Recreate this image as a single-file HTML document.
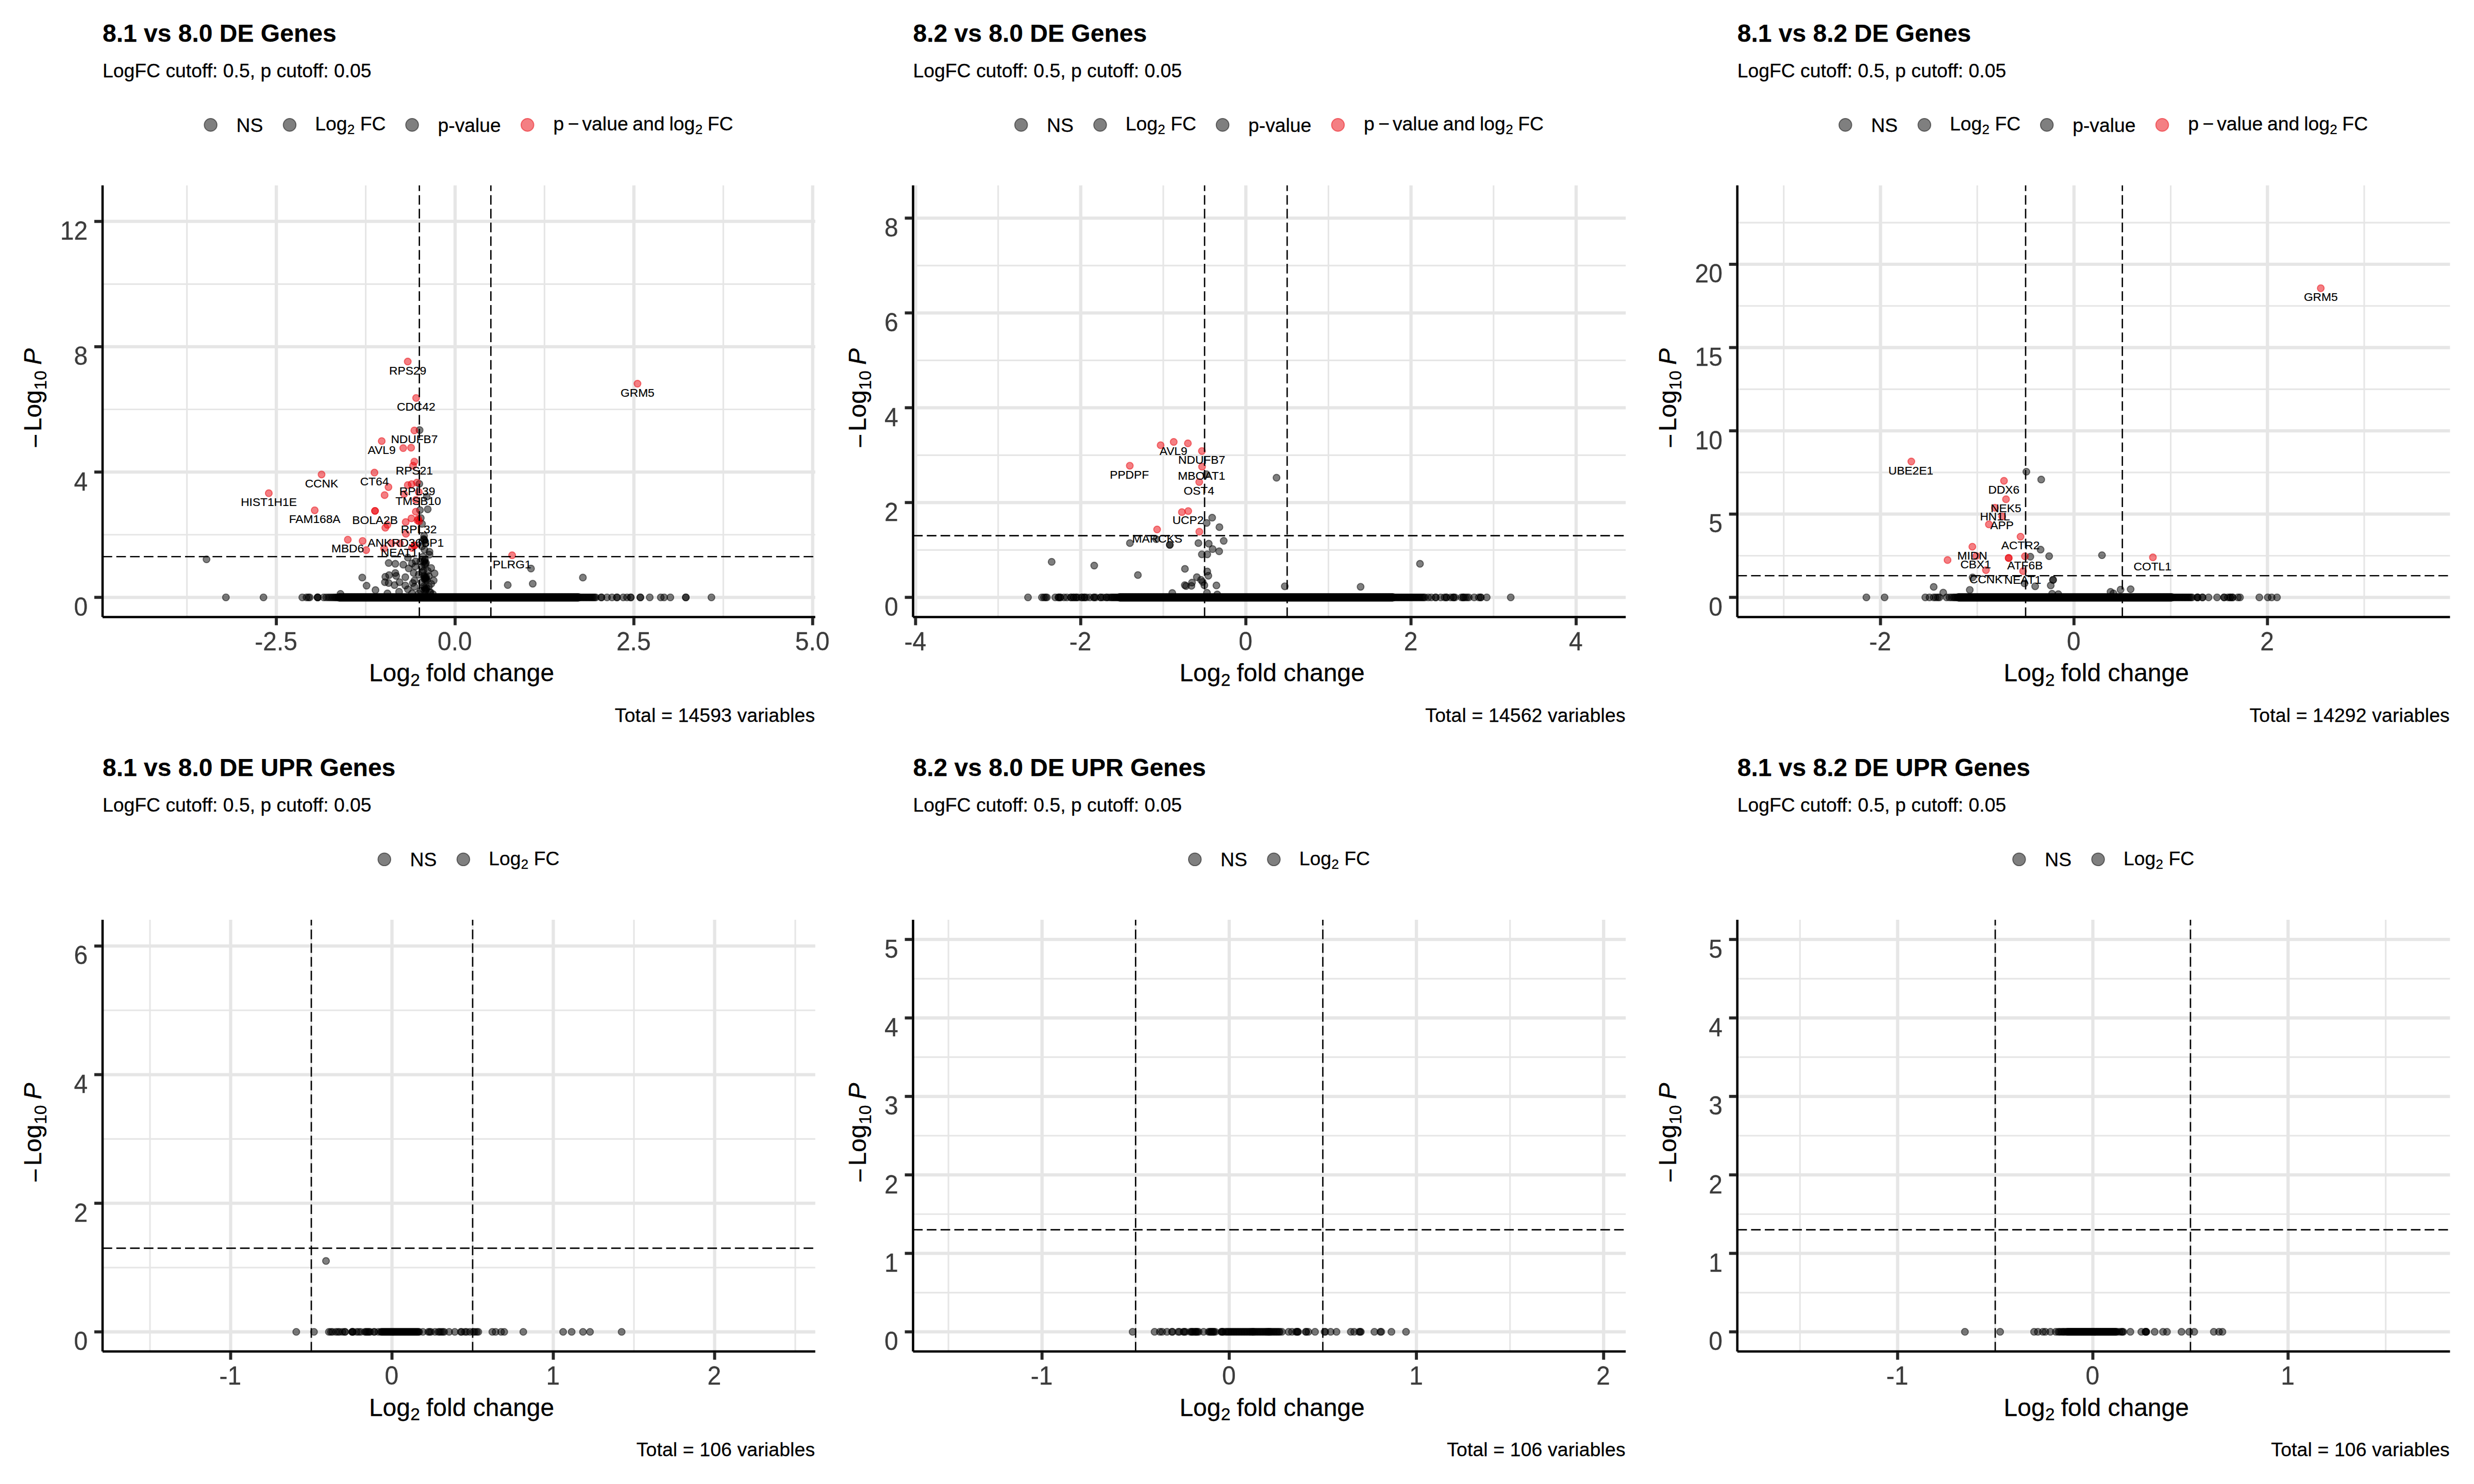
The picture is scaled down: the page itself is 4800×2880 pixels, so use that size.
<!DOCTYPE html>
<html lang="en"><head><meta charset="utf-8"><title>Volcano plots</title><style>
html,body{margin:0;padding:0;background:#fff}
svg{display:block}
text{font-family:"Liberation Sans", sans-serif;fill:#000}
.mn{stroke:#e6e6e6;stroke-width:3.15}
.mj{stroke:#e6e6e6;stroke-width:6.3}
.ax{stroke:#000;stroke-width:4.55}
.tk{stroke:#272727;stroke-width:5.9}
.ds{stroke:#000;stroke-width:2.65;stroke-dasharray:18.67 8}
.bar{stroke:#000;stroke-width:16.2;stroke-linecap:round}
.g{fill:#000;fill-opacity:.5;stroke:#000;stroke-opacity:.5;stroke-width:1.89}
.r{fill:#ea0008;fill-opacity:.5;stroke:#ea0008;stroke-opacity:.5;stroke-width:1.89}
.at{font-size:48px;fill:#3c3c3c;stroke:#3c3c3c;stroke-width:.3}
.al{font-size:48px;stroke:#000;stroke-width:.3}
.sb{font-size:33.6px}
.sb2{font-size:26.1px}
.ti{font-size:48px;font-weight:bold;stroke:#000;stroke-width:.25}
.su{font-size:37.33px;stroke:#000;stroke-width:.3}
.lb{font-size:22.76px;text-anchor:middle;stroke:#000;stroke-width:.2}
</style></head><body>
<svg width="4800" height="2880" viewBox="0 0 4800 2880">
<rect width="4800" height="2880" fill="#fff"/>
<line class="mn" x1="199" x2="1581.75" y1="1037.7" y2="1037.7"/>
<line class="mn" x1="199" x2="1581.75" y1="794.5" y2="794.5"/>
<line class="mn" x1="199" x2="1581.75" y1="551.3" y2="551.3"/>
<line class="mn" x1="362.72" x2="362.72" y1="359.7" y2="1197.4"/>
<line class="mn" x1="709.58" x2="709.58" y1="359.7" y2="1197.4"/>
<line class="mn" x1="1056.42" x2="1056.42" y1="359.7" y2="1197.4"/>
<line class="mn" x1="1403.28" x2="1403.28" y1="359.7" y2="1197.4"/>
<line class="mj" x1="199" x2="1581.75" y1="1159.3" y2="1159.3"/>
<line class="mj" x1="199" x2="1581.75" y1="916.1" y2="916.1"/>
<line class="mj" x1="199" x2="1581.75" y1="672.9" y2="672.9"/>
<line class="mj" x1="199" x2="1581.75" y1="429.7" y2="429.7"/>
<line class="mj" x1="536.15" x2="536.15" y1="359.7" y2="1197.4"/>
<line class="mj" x1="883" x2="883" y1="359.7" y2="1197.4"/>
<line class="mj" x1="1229.85" x2="1229.85" y1="359.7" y2="1197.4"/>
<line class="mj" x1="1576.7" x2="1576.7" y1="359.7" y2="1197.4"/>
<line class="bar" x1="658" x2="1122" y1="1159.3" y2="1159.3"/>
<circle class="g" cx="400.7" cy="1085.5" r="6.64"/>
<circle class="g" cx="438.3" cy="1159.3" r="6.64"/>
<circle class="g" cx="511.2" cy="1159.3" r="6.64"/>
<circle class="g" cx="1030.2" cy="1103.4" r="6.64"/>
<circle class="g" cx="1130.9" cy="1120.9" r="6.64"/>
<circle class="g" cx="985.1" cy="1135.4" r="6.64"/>
<circle class="g" cx="1033.6" cy="1132.8" r="6.64"/>
<circle class="g" cx="814.1" cy="834.7" r="6.64"/>
<circle class="g" cx="813.6" cy="939" r="6.64"/>
<circle class="g" cx="827.9" cy="964" r="6.64"/>
<circle class="g" cx="829.9" cy="988.3" r="6.64"/>
<circle class="g" cx="814.8" cy="990" r="6.64"/>
<circle class="g" cx="816.4" cy="1005.3" r="6.64"/>
<circle class="g" cx="818.8" cy="1016.6" r="6.64"/>
<circle class="g" cx="822.8" cy="1040.1" r="6.64"/>
<circle class="g" cx="822.8" cy="1047.3" r="6.64"/>
<circle class="g" cx="822" cy="1046" r="6.64"/>
<circle class="g" cx="823.8" cy="1049" r="6.64"/>
<circle class="g" cx="825.3" cy="1053.8" r="6.64"/>
<circle class="g" cx="818.8" cy="1060.3" r="6.64"/>
<circle class="g" cx="823.6" cy="1066.8" r="6.64"/>
<circle class="g" cx="833.3" cy="1070.8" r="6.64"/>
<circle class="g" cx="833.3" cy="1076.5" r="6.64"/>
<circle class="g" cx="820.4" cy="1080.5" r="6.64"/>
<circle class="g" cx="791.3" cy="1082.1" r="6.64"/>
<circle class="g" cx="806.7" cy="1089.4" r="6.64"/>
<circle class="g" cx="754.1" cy="1092.6" r="6.64"/>
<circle class="g" cx="767" cy="1094.2" r="6.64"/>
<circle class="g" cx="782.4" cy="1095.9" r="6.64"/>
<circle class="g" cx="799.4" cy="1093.4" r="6.64"/>
<circle class="g" cx="815.6" cy="1089.4" r="6.64"/>
<circle class="g" cx="823.6" cy="1087.8" r="6.64"/>
<circle class="g" cx="824.5" cy="1086" r="6.64"/>
<circle class="g" cx="822.5" cy="1090" r="6.64"/>
<circle class="g" cx="825.3" cy="1094.2" r="6.64"/>
<circle class="g" cx="824" cy="1096" r="6.64"/>
<circle class="g" cx="826.5" cy="1092.5" r="6.64"/>
<circle class="g" cx="792.9" cy="1103.1" r="6.64"/>
<circle class="g" cx="805.9" cy="1099.1" r="6.64"/>
<circle class="g" cx="836.6" cy="1102.3" r="6.64"/>
<circle class="g" cx="822" cy="1107.2" r="6.64"/>
<circle class="g" cx="767" cy="1112" r="6.64"/>
<circle class="g" cx="802.6" cy="1112" r="6.64"/>
<circle class="g" cx="843.1" cy="1112.9" r="6.64"/>
<circle class="g" cx="754.9" cy="1116.1" r="6.64"/>
<circle class="g" cx="768.7" cy="1117.7" r="6.64"/>
<circle class="g" cx="747.6" cy="1119.3" r="6.64"/>
<circle class="g" cx="786.4" cy="1120.1" r="6.64"/>
<circle class="g" cx="812.3" cy="1115.3" r="6.64"/>
<circle class="g" cx="825.3" cy="1121.7" r="6.64"/>
<circle class="g" cx="824" cy="1119.5" r="6.64"/>
<circle class="g" cx="826.5" cy="1123.5" r="6.64"/>
<circle class="g" cx="823.2" cy="1123" r="6.64"/>
<circle class="g" cx="827" cy="1120.5" r="6.64"/>
<circle class="g" cx="825" cy="1125.5" r="6.64"/>
<circle class="g" cx="822.5" cy="1117.5" r="6.64"/>
<circle class="g" cx="828" cy="1126" r="6.64"/>
<circle class="g" cx="841.4" cy="1126.6" r="6.64"/>
<circle class="g" cx="702.8" cy="1120.9" r="6.64"/>
<circle class="g" cx="746.8" cy="1129.8" r="6.64"/>
<circle class="g" cx="754.1" cy="1131.5" r="6.64"/>
<circle class="g" cx="775.1" cy="1129.8" r="6.64"/>
<circle class="g" cx="765.4" cy="1135.5" r="6.64"/>
<circle class="g" cx="786.4" cy="1136.3" r="6.64"/>
<circle class="g" cx="801" cy="1131.5" r="6.64"/>
<circle class="g" cx="804.2" cy="1126.6" r="6.64"/>
<circle class="g" cx="836.6" cy="1133.1" r="6.64"/>
<circle class="g" cx="711.2" cy="1136.6" r="6.64"/>
<circle class="g" cx="804.2" cy="1138.7" r="6.64"/>
<circle class="g" cx="791.3" cy="1143.6" r="6.64"/>
<circle class="g" cx="825.3" cy="1142.8" r="6.64"/>
<circle class="g" cx="824" cy="1140.5" r="6.64"/>
<circle class="g" cx="826.6" cy="1144.6" r="6.64"/>
<circle class="g" cx="823" cy="1145" r="6.64"/>
<circle class="g" cx="827.5" cy="1141" r="6.64"/>
<circle class="g" cx="825.5" cy="1147" r="6.64"/>
<circle class="g" cx="822" cy="1138" r="6.64"/>
<circle class="g" cx="728.5" cy="1145.2" r="6.64"/>
<circle class="g" cx="774.3" cy="1148.4" r="6.64"/>
<circle class="g" cx="751.7" cy="1151.7" r="6.64"/>
<circle class="g" cx="799.4" cy="1151.7" r="6.64"/>
<circle class="g" cx="660.6" cy="1152.5" r="6.64"/>
<circle class="g" cx="835" cy="1149.2" r="6.64"/>
<circle class="g" cx="818" cy="1100" r="6.64"/>
<circle class="g" cx="820" cy="1110" r="6.64"/>
<circle class="g" cx="830" cy="1108" r="6.64"/>
<circle class="g" cx="832" cy="1118" r="6.64"/>
<circle class="g" cx="818" cy="1130" r="6.64"/>
<circle class="g" cx="832" cy="1138" r="6.64"/>
<circle class="g" cx="816" cy="1146" r="6.64"/>
<circle class="g" cx="834" cy="1150" r="6.64"/>
<circle class="g" cx="812" cy="1152" r="6.64"/>
<circle class="g" cx="840" cy="1153" r="6.64"/>
<circle class="g" cx="586.5" cy="1159.3" r="6.64"/>
<circle class="g" cx="594.5" cy="1159.3" r="6.64"/>
<circle class="g" cx="598.3" cy="1159.3" r="6.64"/>
<circle class="g" cx="601" cy="1159.3" r="6.64"/>
<circle class="g" cx="616.3" cy="1159.3" r="6.64"/>
<circle class="g" cx="616.3" cy="1159.3" r="6.64"/>
<circle class="g" cx="616.3" cy="1159.3" r="6.64"/>
<circle class="g" cx="628" cy="1159.3" r="6.64"/>
<circle class="g" cx="632.8" cy="1159.3" r="6.64"/>
<circle class="g" cx="637" cy="1159.3" r="6.64"/>
<circle class="g" cx="640.5" cy="1159.3" r="6.64"/>
<circle class="g" cx="644" cy="1159.3" r="6.64"/>
<circle class="g" cx="647" cy="1159.3" r="6.64"/>
<circle class="g" cx="650" cy="1159.3" r="6.64"/>
<circle class="g" cx="652" cy="1159.3" r="6.64"/>
<circle class="g" cx="654.4" cy="1159.3" r="6.64"/>
<circle class="g" cx="656.8" cy="1159.3" r="6.64"/>
<circle class="g" cx="659.2" cy="1159.3" r="6.64"/>
<circle class="g" cx="661.6" cy="1159.3" r="6.64"/>
<circle class="g" cx="664" cy="1159.3" r="6.64"/>
<circle class="g" cx="666.4" cy="1159.3" r="6.64"/>
<circle class="g" cx="668.8" cy="1159.3" r="6.64"/>
<circle class="g" cx="671.2" cy="1159.3" r="6.64"/>
<circle class="g" cx="673.6" cy="1159.3" r="6.64"/>
<circle class="g" cx="676" cy="1159.3" r="6.64"/>
<circle class="g" cx="678.4" cy="1159.3" r="6.64"/>
<circle class="g" cx="680.8" cy="1159.3" r="6.64"/>
<circle class="g" cx="683.2" cy="1159.3" r="6.64"/>
<circle class="g" cx="685.6" cy="1159.3" r="6.64"/>
<circle class="g" cx="688" cy="1159.3" r="6.64"/>
<circle class="g" cx="690.4" cy="1159.3" r="6.64"/>
<circle class="g" cx="692.8" cy="1159.3" r="6.64"/>
<circle class="g" cx="695.2" cy="1159.3" r="6.64"/>
<circle class="g" cx="697.6" cy="1159.3" r="6.64"/>
<circle class="g" cx="700" cy="1159.3" r="6.64"/>
<circle class="g" cx="702.4" cy="1159.3" r="6.64"/>
<circle class="g" cx="704.8" cy="1159.3" r="6.64"/>
<circle class="g" cx="707.2" cy="1159.3" r="6.64"/>
<circle class="g" cx="709.6" cy="1159.3" r="6.64"/>
<circle class="g" cx="712" cy="1159.3" r="6.64"/>
<circle class="g" cx="714.4" cy="1159.3" r="6.64"/>
<circle class="g" cx="716.8" cy="1159.3" r="6.64"/>
<circle class="g" cx="719.2" cy="1159.3" r="6.64"/>
<circle class="g" cx="721.6" cy="1159.3" r="6.64"/>
<circle class="g" cx="724" cy="1159.3" r="6.64"/>
<circle class="g" cx="726.4" cy="1159.3" r="6.64"/>
<circle class="g" cx="728.8" cy="1159.3" r="6.64"/>
<circle class="g" cx="731.2" cy="1159.3" r="6.64"/>
<circle class="g" cx="733.6" cy="1159.3" r="6.64"/>
<circle class="g" cx="736" cy="1159.3" r="6.64"/>
<circle class="g" cx="738.4" cy="1159.3" r="6.64"/>
<circle class="g" cx="740.8" cy="1159.3" r="6.64"/>
<circle class="g" cx="743.2" cy="1159.3" r="6.64"/>
<circle class="g" cx="745.6" cy="1159.3" r="6.64"/>
<circle class="g" cx="748" cy="1159.3" r="6.64"/>
<circle class="g" cx="750.4" cy="1159.3" r="6.64"/>
<circle class="g" cx="752.8" cy="1159.3" r="6.64"/>
<circle class="g" cx="755.2" cy="1159.3" r="6.64"/>
<circle class="g" cx="757.6" cy="1159.3" r="6.64"/>
<circle class="g" cx="760" cy="1159.3" r="6.64"/>
<circle class="g" cx="762.4" cy="1159.3" r="6.64"/>
<circle class="g" cx="764.8" cy="1159.3" r="6.64"/>
<circle class="g" cx="767.2" cy="1159.3" r="6.64"/>
<circle class="g" cx="769.6" cy="1159.3" r="6.64"/>
<circle class="g" cx="772" cy="1159.3" r="6.64"/>
<circle class="g" cx="774.4" cy="1159.3" r="6.64"/>
<circle class="g" cx="776.8" cy="1159.3" r="6.64"/>
<circle class="g" cx="779.2" cy="1159.3" r="6.64"/>
<circle class="g" cx="781.6" cy="1159.3" r="6.64"/>
<circle class="g" cx="784" cy="1159.3" r="6.64"/>
<circle class="g" cx="786.4" cy="1159.3" r="6.64"/>
<circle class="g" cx="788.8" cy="1159.3" r="6.64"/>
<circle class="g" cx="791.2" cy="1159.3" r="6.64"/>
<circle class="g" cx="793.6" cy="1159.3" r="6.64"/>
<circle class="g" cx="796" cy="1159.3" r="6.64"/>
<circle class="g" cx="798.4" cy="1159.3" r="6.64"/>
<circle class="g" cx="800.8" cy="1159.3" r="6.64"/>
<circle class="g" cx="803.2" cy="1159.3" r="6.64"/>
<circle class="g" cx="805.6" cy="1159.3" r="6.64"/>
<circle class="g" cx="808" cy="1159.3" r="6.64"/>
<circle class="g" cx="810.4" cy="1159.3" r="6.64"/>
<circle class="g" cx="812.8" cy="1159.3" r="6.64"/>
<circle class="g" cx="815.2" cy="1159.3" r="6.64"/>
<circle class="g" cx="817.6" cy="1159.3" r="6.64"/>
<circle class="g" cx="820" cy="1159.3" r="6.64"/>
<circle class="g" cx="822.4" cy="1159.3" r="6.64"/>
<circle class="g" cx="824.8" cy="1159.3" r="6.64"/>
<circle class="g" cx="827.2" cy="1159.3" r="6.64"/>
<circle class="g" cx="829.6" cy="1159.3" r="6.64"/>
<circle class="g" cx="832" cy="1159.3" r="6.64"/>
<circle class="g" cx="834.4" cy="1159.3" r="6.64"/>
<circle class="g" cx="836.8" cy="1159.3" r="6.64"/>
<circle class="g" cx="839.2" cy="1159.3" r="6.64"/>
<circle class="g" cx="841.6" cy="1159.3" r="6.64"/>
<circle class="g" cx="844" cy="1159.3" r="6.64"/>
<circle class="g" cx="846.4" cy="1159.3" r="6.64"/>
<circle class="g" cx="848.8" cy="1159.3" r="6.64"/>
<circle class="g" cx="851.2" cy="1159.3" r="6.64"/>
<circle class="g" cx="853.6" cy="1159.3" r="6.64"/>
<circle class="g" cx="856" cy="1159.3" r="6.64"/>
<circle class="g" cx="858.4" cy="1159.3" r="6.64"/>
<circle class="g" cx="860.8" cy="1159.3" r="6.64"/>
<circle class="g" cx="863.2" cy="1159.3" r="6.64"/>
<circle class="g" cx="865.6" cy="1159.3" r="6.64"/>
<circle class="g" cx="868" cy="1159.3" r="6.64"/>
<circle class="g" cx="870.4" cy="1159.3" r="6.64"/>
<circle class="g" cx="872.8" cy="1159.3" r="6.64"/>
<circle class="g" cx="875.2" cy="1159.3" r="6.64"/>
<circle class="g" cx="877.6" cy="1159.3" r="6.64"/>
<circle class="g" cx="880" cy="1159.3" r="6.64"/>
<circle class="g" cx="882.4" cy="1159.3" r="6.64"/>
<circle class="g" cx="884.8" cy="1159.3" r="6.64"/>
<circle class="g" cx="887.2" cy="1159.3" r="6.64"/>
<circle class="g" cx="889.6" cy="1159.3" r="6.64"/>
<circle class="g" cx="892" cy="1159.3" r="6.64"/>
<circle class="g" cx="894.4" cy="1159.3" r="6.64"/>
<circle class="g" cx="896.8" cy="1159.3" r="6.64"/>
<circle class="g" cx="899.2" cy="1159.3" r="6.64"/>
<circle class="g" cx="901.6" cy="1159.3" r="6.64"/>
<circle class="g" cx="904" cy="1159.3" r="6.64"/>
<circle class="g" cx="906.4" cy="1159.3" r="6.64"/>
<circle class="g" cx="908.8" cy="1159.3" r="6.64"/>
<circle class="g" cx="911.2" cy="1159.3" r="6.64"/>
<circle class="g" cx="913.6" cy="1159.3" r="6.64"/>
<circle class="g" cx="916" cy="1159.3" r="6.64"/>
<circle class="g" cx="918.4" cy="1159.3" r="6.64"/>
<circle class="g" cx="920.8" cy="1159.3" r="6.64"/>
<circle class="g" cx="923.2" cy="1159.3" r="6.64"/>
<circle class="g" cx="925.6" cy="1159.3" r="6.64"/>
<circle class="g" cx="928" cy="1159.3" r="6.64"/>
<circle class="g" cx="930.4" cy="1159.3" r="6.64"/>
<circle class="g" cx="932.8" cy="1159.3" r="6.64"/>
<circle class="g" cx="935.2" cy="1159.3" r="6.64"/>
<circle class="g" cx="937.6" cy="1159.3" r="6.64"/>
<circle class="g" cx="940" cy="1159.3" r="6.64"/>
<circle class="g" cx="942.4" cy="1159.3" r="6.64"/>
<circle class="g" cx="944.8" cy="1159.3" r="6.64"/>
<circle class="g" cx="947.2" cy="1159.3" r="6.64"/>
<circle class="g" cx="949.6" cy="1159.3" r="6.64"/>
<circle class="g" cx="952" cy="1159.3" r="6.64"/>
<circle class="g" cx="954.4" cy="1159.3" r="6.64"/>
<circle class="g" cx="956.8" cy="1159.3" r="6.64"/>
<circle class="g" cx="959.2" cy="1159.3" r="6.64"/>
<circle class="g" cx="961.6" cy="1159.3" r="6.64"/>
<circle class="g" cx="964" cy="1159.3" r="6.64"/>
<circle class="g" cx="966.4" cy="1159.3" r="6.64"/>
<circle class="g" cx="968.8" cy="1159.3" r="6.64"/>
<circle class="g" cx="971.2" cy="1159.3" r="6.64"/>
<circle class="g" cx="973.6" cy="1159.3" r="6.64"/>
<circle class="g" cx="976" cy="1159.3" r="6.64"/>
<circle class="g" cx="978.4" cy="1159.3" r="6.64"/>
<circle class="g" cx="980.8" cy="1159.3" r="6.64"/>
<circle class="g" cx="983.2" cy="1159.3" r="6.64"/>
<circle class="g" cx="985.6" cy="1159.3" r="6.64"/>
<circle class="g" cx="988" cy="1159.3" r="6.64"/>
<circle class="g" cx="990.4" cy="1159.3" r="6.64"/>
<circle class="g" cx="992.8" cy="1159.3" r="6.64"/>
<circle class="g" cx="995.2" cy="1159.3" r="6.64"/>
<circle class="g" cx="997.6" cy="1159.3" r="6.64"/>
<circle class="g" cx="1000" cy="1159.3" r="6.64"/>
<circle class="g" cx="1002.4" cy="1159.3" r="6.64"/>
<circle class="g" cx="1004.8" cy="1159.3" r="6.64"/>
<circle class="g" cx="1007.2" cy="1159.3" r="6.64"/>
<circle class="g" cx="1009.6" cy="1159.3" r="6.64"/>
<circle class="g" cx="1012" cy="1159.3" r="6.64"/>
<circle class="g" cx="1014.4" cy="1159.3" r="6.64"/>
<circle class="g" cx="1016.8" cy="1159.3" r="6.64"/>
<circle class="g" cx="1019.2" cy="1159.3" r="6.64"/>
<circle class="g" cx="1021.6" cy="1159.3" r="6.64"/>
<circle class="g" cx="1024" cy="1159.3" r="6.64"/>
<circle class="g" cx="1026.4" cy="1159.3" r="6.64"/>
<circle class="g" cx="1028.8" cy="1159.3" r="6.64"/>
<circle class="g" cx="1031.2" cy="1159.3" r="6.64"/>
<circle class="g" cx="1033.6" cy="1159.3" r="6.64"/>
<circle class="g" cx="1036" cy="1159.3" r="6.64"/>
<circle class="g" cx="1038.4" cy="1159.3" r="6.64"/>
<circle class="g" cx="1040.8" cy="1159.3" r="6.64"/>
<circle class="g" cx="1043.2" cy="1159.3" r="6.64"/>
<circle class="g" cx="1045.6" cy="1159.3" r="6.64"/>
<circle class="g" cx="1048" cy="1159.3" r="6.64"/>
<circle class="g" cx="1050.4" cy="1159.3" r="6.64"/>
<circle class="g" cx="1052.8" cy="1159.3" r="6.64"/>
<circle class="g" cx="1055.2" cy="1159.3" r="6.64"/>
<circle class="g" cx="1057.6" cy="1159.3" r="6.64"/>
<circle class="g" cx="1060" cy="1159.3" r="6.64"/>
<circle class="g" cx="1062.4" cy="1159.3" r="6.64"/>
<circle class="g" cx="1064.8" cy="1159.3" r="6.64"/>
<circle class="g" cx="1067.2" cy="1159.3" r="6.64"/>
<circle class="g" cx="1069.6" cy="1159.3" r="6.64"/>
<circle class="g" cx="1072" cy="1159.3" r="6.64"/>
<circle class="g" cx="1074.4" cy="1159.3" r="6.64"/>
<circle class="g" cx="1076.8" cy="1159.3" r="6.64"/>
<circle class="g" cx="1079.2" cy="1159.3" r="6.64"/>
<circle class="g" cx="1081.6" cy="1159.3" r="6.64"/>
<circle class="g" cx="1084" cy="1159.3" r="6.64"/>
<circle class="g" cx="1086.4" cy="1159.3" r="6.64"/>
<circle class="g" cx="1088.8" cy="1159.3" r="6.64"/>
<circle class="g" cx="1091.2" cy="1159.3" r="6.64"/>
<circle class="g" cx="1093.6" cy="1159.3" r="6.64"/>
<circle class="g" cx="1096" cy="1159.3" r="6.64"/>
<circle class="g" cx="1098.4" cy="1159.3" r="6.64"/>
<circle class="g" cx="1100.8" cy="1159.3" r="6.64"/>
<circle class="g" cx="1103.2" cy="1159.3" r="6.64"/>
<circle class="g" cx="1105.6" cy="1159.3" r="6.64"/>
<circle class="g" cx="1108" cy="1159.3" r="6.64"/>
<circle class="g" cx="1110.4" cy="1159.3" r="6.64"/>
<circle class="g" cx="1112.8" cy="1159.3" r="6.64"/>
<circle class="g" cx="1115.2" cy="1159.3" r="6.64"/>
<circle class="g" cx="1117.6" cy="1159.3" r="6.64"/>
<circle class="g" cx="1120" cy="1159.3" r="6.64"/>
<circle class="g" cx="1122.4" cy="1159.3" r="6.64"/>
<circle class="g" cx="1124.8" cy="1159.3" r="6.64"/>
<circle class="g" cx="1127.2" cy="1159.3" r="6.64"/>
<circle class="g" cx="1129.6" cy="1159.3" r="6.64"/>
<circle class="g" cx="1132" cy="1159.3" r="6.64"/>
<circle class="g" cx="1134.4" cy="1159.3" r="6.64"/>
<circle class="g" cx="1136.8" cy="1159.3" r="6.64"/>
<circle class="g" cx="1139.2" cy="1159.3" r="6.64"/>
<circle class="g" cx="1141.6" cy="1159.3" r="6.64"/>
<circle class="g" cx="1144" cy="1159.3" r="6.64"/>
<circle class="g" cx="1146.4" cy="1159.3" r="6.64"/>
<circle class="g" cx="1148.8" cy="1159.3" r="6.64"/>
<circle class="g" cx="1151.2" cy="1159.3" r="6.64"/>
<circle class="g" cx="1153.6" cy="1159.3" r="6.64"/>
<circle class="g" cx="1156" cy="1159.3" r="6.64"/>
<circle class="g" cx="1166.8" cy="1159.3" r="6.64"/>
<circle class="g" cx="1166.8" cy="1159.3" r="6.64"/>
<circle class="g" cx="1177.7" cy="1159.3" r="6.64"/>
<circle class="g" cx="1187.4" cy="1159.3" r="6.64"/>
<circle class="g" cx="1197" cy="1159.3" r="6.64"/>
<circle class="g" cx="1197" cy="1159.3" r="6.64"/>
<circle class="g" cx="1209.2" cy="1159.3" r="6.64"/>
<circle class="g" cx="1216.5" cy="1159.3" r="6.64"/>
<circle class="g" cx="1223.8" cy="1159.3" r="6.64"/>
<circle class="g" cx="1223.8" cy="1159.3" r="6.64"/>
<circle class="g" cx="1242.4" cy="1159.3" r="6.64"/>
<circle class="g" cx="1242.4" cy="1159.3" r="6.64"/>
<circle class="g" cx="1260.6" cy="1159.3" r="6.64"/>
<circle class="g" cx="1282" cy="1159.3" r="6.64"/>
<circle class="g" cx="1288.5" cy="1159.3" r="6.64"/>
<circle class="g" cx="1300.6" cy="1159.3" r="6.64"/>
<circle class="g" cx="1330.6" cy="1159.3" r="6.64"/>
<circle class="g" cx="1330.6" cy="1159.3" r="6.64"/>
<circle class="g" cx="1380.3" cy="1159.3" r="6.64"/>
<circle class="r" cx="791.1" cy="701.7" r="6.64"/>
<circle class="r" cx="807.3" cy="772.3" r="6.64"/>
<circle class="r" cx="803.9" cy="835.4" r="6.64"/>
<circle class="r" cx="740.6" cy="856" r="6.64"/>
<circle class="r" cx="782.3" cy="869.6" r="6.64"/>
<circle class="r" cx="797.6" cy="868.9" r="6.64"/>
<circle class="r" cx="803.9" cy="895.8" r="6.64"/>
<circle class="r" cx="801.5" cy="903.8" r="6.64"/>
<circle class="r" cx="726.5" cy="917.2" r="6.64"/>
<circle class="r" cx="623.9" cy="920.8" r="6.64"/>
<circle class="r" cx="753.7" cy="945.3" r="6.64"/>
<circle class="r" cx="746.2" cy="960.9" r="6.64"/>
<circle class="r" cx="521.5" cy="957.2" r="6.64"/>
<circle class="r" cx="610.6" cy="990.3" r="6.64"/>
<circle class="r" cx="727.6" cy="991.5" r="6.64"/>
<circle class="r" cx="727.6" cy="991.5" r="6.64"/>
<circle class="r" cx="791.1" cy="941.4" r="6.64"/>
<circle class="r" cx="798.6" cy="939.5" r="6.64"/>
<circle class="r" cx="808.8" cy="936.6" r="6.64"/>
<circle class="r" cx="784" cy="958.9" r="6.64"/>
<circle class="r" cx="812.4" cy="954.8" r="6.64"/>
<circle class="r" cx="807" cy="970" r="6.64"/>
<circle class="r" cx="806.7" cy="993" r="6.64"/>
<circle class="r" cx="798.2" cy="1006" r="6.64"/>
<circle class="r" cx="787.1" cy="1013.2" r="6.64"/>
<circle class="r" cx="811.5" cy="1006.9" r="6.64"/>
<circle class="r" cx="813.1" cy="1011.8" r="6.64"/>
<circle class="r" cx="810" cy="1010" r="6.64"/>
<circle class="r" cx="751.7" cy="1018.6" r="6.64"/>
<circle class="r" cx="747.6" cy="1024.2" r="6.64"/>
<circle class="r" cx="787.6" cy="1036" r="6.64"/>
<circle class="r" cx="674.8" cy="1047.3" r="6.64"/>
<circle class="r" cx="703.5" cy="1049.8" r="6.64"/>
<circle class="r" cx="710.4" cy="1067.6" r="6.64"/>
<circle class="r" cx="759.8" cy="1054.6" r="6.64"/>
<circle class="r" cx="775.9" cy="1054.6" r="6.64"/>
<circle class="r" cx="745.2" cy="1064.3" r="6.64"/>
<circle class="r" cx="799.4" cy="1063.5" r="6.64"/>
<circle class="r" cx="804.2" cy="1058.7" r="6.64"/>
<circle class="r" cx="804.2" cy="1058.7" r="6.64"/>
<circle class="r" cx="993.6" cy="1077.7" r="6.64"/>
<circle class="r" cx="1236.85" cy="744.6" r="6.64"/>
<line class="ds" x1="813.63" x2="813.63" y1="1197.4" y2="359.7"/>
<line class="ds" x1="952.37" x2="952.37" y1="1197.4" y2="359.7"/>
<line class="ds" x1="199" x2="1581.75" y1="1080.2" y2="1080.2"/>
<text class="lb" x="791.1" y="726.7">RPS29</text>
<text class="lb" x="807.3" y="797.3">CDC42</text>
<text class="lb" x="803.9" y="860.4">NDUFB7</text>
<text class="lb" x="740.6" y="881">AVL9</text>
<text class="lb" x="803.9" y="920.8">RPS21</text>
<text class="lb" x="726.5" y="942.2">CT64</text>
<text class="lb" x="623.9" y="945.8">CCNK</text>
<text class="lb" x="521.5" y="982.2">HIST1H1E</text>
<text class="lb" x="610.6" y="1015.3">FAM168A</text>
<text class="lb" x="727.6" y="1016.5">BOLA2B</text>
<text class="lb" x="809.5" y="961">RPL39</text>
<text class="lb" x="811.5" y="980">TMSB10</text>
<text class="lb" x="812.5" y="1034.8">RPL32</text>
<text class="lb" x="787.2" y="1060.5">ANKRD36BP1</text>
<text class="lb" x="674.6" y="1072.3">MBD6</text>
<text class="lb" x="774.6" y="1079.7">NEAT1</text>
<text class="lb" x="993.3" y="1102.7">PLRG1</text>
<text class="lb" x="1236.9" y="769.8">GRM5</text>
<line class="ax" x1="199" x2="199" y1="359.7" y2="1197.4"/>
<line class="ax" x1="199" x2="1581.75" y1="1197.4" y2="1197.4"/>
<line class="tk" x1="183" x2="197.5" y1="1159.3" y2="1159.3"/>
<text class="at" text-anchor="end" transform="translate(170.2 1194.8) scale(1 1.03)">0</text>
<line class="tk" x1="183" x2="197.5" y1="916.1" y2="916.1"/>
<text class="at" text-anchor="end" transform="translate(170.2 951.6) scale(1 1.03)">4</text>
<line class="tk" x1="183" x2="197.5" y1="672.9" y2="672.9"/>
<text class="at" text-anchor="end" transform="translate(170.2 708.4) scale(1 1.03)">8</text>
<line class="tk" x1="183" x2="197.5" y1="429.7" y2="429.7"/>
<text class="at" text-anchor="end" transform="translate(170.2 465.2) scale(1 1.03)">12</text>
<line class="tk" x1="536.15" x2="536.15" y1="1198.9" y2="1213.4"/>
<text class="at" text-anchor="middle" transform="translate(535.55 1261.5) scale(1 1.03)">-2.5</text>
<line class="tk" x1="883" x2="883" y1="1198.9" y2="1213.4"/>
<text class="at" text-anchor="middle" transform="translate(882.4 1261.5) scale(1 1.03)">0.0</text>
<line class="tk" x1="1229.85" x2="1229.85" y1="1198.9" y2="1213.4"/>
<text class="at" text-anchor="middle" transform="translate(1229.25 1261.5) scale(1 1.03)">2.5</text>
<line class="tk" x1="1576.7" x2="1576.7" y1="1198.9" y2="1213.4"/>
<text class="at" text-anchor="middle" transform="translate(1576.1 1261.5) scale(1 1.03)">5.0</text>
<text class="al" y="1322.2"><tspan x="715.9">Log</tspan><tspan class="sb" x="796.3" dy="8.6">2</tspan><tspan x="813.7" dy="-8.6"> fold change</tspan></text>
<text class="al" transform="translate(80.25 870) rotate(-90)"><tspan x="0" y="4.7">−</tspan><tspan x="32.8" y="0">Log</tspan><tspan class="sb" x="113.6" y="9.3">10</tspan><tspan x="162" y="0" font-style="italic">P</tspan></text>
<text class="ti" x="199" y="80.5">8.1 vs 8.0 DE Genes</text>
<text class="su" x="199" y="149.9">LogFC cutoff: 0.5, p cutoff: 0.05</text>
<text class="su" text-anchor="end" letter-spacing=".15" x="1581.25" y="1400.6">Total = 14593 variables</text>
<circle class="g" cx="408.65" cy="242.4" r="12.33"/>
<circle class="g" cx="561.95" cy="242.4" r="12.33"/>
<circle class="g" cx="799.55" cy="242.4" r="12.33"/>
<circle class="r" cx="1023.35" cy="242.4" r="12.33"/>
<text class="su" x="458.45" y="255.7">NS</text>
<text class="su" y="253.3"><tspan x="611.35">Log</tspan><tspan class="sb2" x="673.85" dy="6.8">2</tspan><tspan x="698.75" dy="-6.8">FC</tspan></text>
<text class="su" x="849.45" y="255.7">p-value</text>
<text class="su" y="253"><tspan x="1073.55">p</tspan><tspan x="1101.7">−</tspan><tspan x="1129.45">value</tspan><tspan x="1227.35">and</tspan><tspan x="1298.55">log</tspan><tspan class="sb2" x="1348.65" dy="6.6">2</tspan><tspan x="1372.65" dy="-6.6">FC</tspan></text>
<line class="mn" x1="1771.5" x2="3154.25" y1="1067.3" y2="1067.3"/>
<line class="mn" x1="1771.5" x2="3154.25" y1="883.3" y2="883.3"/>
<line class="mn" x1="1771.5" x2="3154.25" y1="699.3" y2="699.3"/>
<line class="mn" x1="1771.5" x2="3154.25" y1="515.3" y2="515.3"/>
<line class="mn" x1="1936.6" x2="1936.6" y1="359.7" y2="1197.4"/>
<line class="mn" x1="2257" x2="2257" y1="359.7" y2="1197.4"/>
<line class="mn" x1="2577.4" x2="2577.4" y1="359.7" y2="1197.4"/>
<line class="mn" x1="2897.8" x2="2897.8" y1="359.7" y2="1197.4"/>
<line class="mj" x1="1771.5" x2="3154.25" y1="1159.3" y2="1159.3"/>
<line class="mj" x1="1771.5" x2="3154.25" y1="975.3" y2="975.3"/>
<line class="mj" x1="1771.5" x2="3154.25" y1="791.3" y2="791.3"/>
<line class="mj" x1="1771.5" x2="3154.25" y1="607.3" y2="607.3"/>
<line class="mj" x1="1771.5" x2="3154.25" y1="423.3" y2="423.3"/>
<line class="mj" x1="1776.4" x2="1776.4" y1="359.7" y2="1197.4"/>
<line class="mj" x1="2096.8" x2="2096.8" y1="359.7" y2="1197.4"/>
<line class="mj" x1="2417.2" x2="2417.2" y1="359.7" y2="1197.4"/>
<line class="mj" x1="2737.6" x2="2737.6" y1="359.7" y2="1197.4"/>
<line class="mj" x1="3058" x2="3058" y1="359.7" y2="1197.4"/>
<line class="bar" x1="2172.5" x2="2702" y1="1159.3" y2="1159.3"/>
<circle class="g" cx="2340.8" cy="920.3" r="6.64"/>
<circle class="g" cx="2476.7" cy="927.1" r="6.64"/>
<circle class="g" cx="2351.8" cy="1004.7" r="6.64"/>
<circle class="g" cx="2341.1" cy="1014.9" r="6.64"/>
<circle class="g" cx="2365.9" cy="1023" r="6.64"/>
<circle class="g" cx="2374.2" cy="1049.6" r="6.64"/>
<circle class="g" cx="2325.1" cy="1054" r="6.64"/>
<circle class="g" cx="2345.2" cy="1055.2" r="6.64"/>
<circle class="g" cx="2192.2" cy="1054" r="6.64"/>
<circle class="g" cx="2243.3" cy="1046.3" r="6.64"/>
<circle class="g" cx="2269.6" cy="1057.3" r="6.64"/>
<circle class="g" cx="2269.6" cy="1057.3" r="6.64"/>
<circle class="g" cx="2352.7" cy="1065.6" r="6.64"/>
<circle class="g" cx="2365.4" cy="1069.9" r="6.64"/>
<circle class="g" cx="2331.8" cy="1075.8" r="6.64"/>
<circle class="g" cx="2342.3" cy="1075.8" r="6.64"/>
<circle class="g" cx="2123" cy="1097.6" r="6.64"/>
<circle class="g" cx="2207.7" cy="1116" r="6.64"/>
<circle class="g" cx="2299" cy="1104" r="6.64"/>
<circle class="g" cx="2342.3" cy="1109.2" r="6.64"/>
<circle class="g" cx="2344.4" cy="1117.3" r="6.64"/>
<circle class="g" cx="2322.1" cy="1120.2" r="6.64"/>
<circle class="g" cx="2330.2" cy="1125.4" r="6.64"/>
<circle class="g" cx="2333.4" cy="1129.4" r="6.64"/>
<circle class="g" cx="2336.7" cy="1135.9" r="6.64"/>
<circle class="g" cx="2312.7" cy="1130.6" r="6.64"/>
<circle class="g" cx="2311.6" cy="1137" r="6.64"/>
<circle class="g" cx="2298.7" cy="1135.6" r="6.64"/>
<circle class="g" cx="2301.1" cy="1137.3" r="6.64"/>
<circle class="g" cx="2360.1" cy="1136.2" r="6.64"/>
<circle class="g" cx="2492.7" cy="1137.8" r="6.64"/>
<circle class="g" cx="2274.4" cy="1150.9" r="6.64"/>
<circle class="g" cx="2341.8" cy="1150.5" r="6.64"/>
<circle class="g" cx="2361.7" cy="1153.7" r="6.64"/>
<circle class="g" cx="2040.4" cy="1090.4" r="6.64"/>
<circle class="g" cx="2755" cy="1094.2" r="6.64"/>
<circle class="g" cx="2639.8" cy="1138.8" r="6.64"/>
<circle class="g" cx="1994.5" cy="1159.3" r="6.64"/>
<circle class="g" cx="2021.5" cy="1159.3" r="6.64"/>
<circle class="g" cx="2025.5" cy="1159.3" r="6.64"/>
<circle class="g" cx="2028.8" cy="1159.3" r="6.64"/>
<circle class="g" cx="2031.2" cy="1159.3" r="6.64"/>
<circle class="g" cx="2047.4" cy="1159.3" r="6.64"/>
<circle class="g" cx="2053.8" cy="1159.3" r="6.64"/>
<circle class="g" cx="2053.8" cy="1159.3" r="6.64"/>
<circle class="g" cx="2057" cy="1159.3" r="6.64"/>
<circle class="g" cx="2057" cy="1159.3" r="6.64"/>
<circle class="g" cx="2064.3" cy="1159.3" r="6.64"/>
<circle class="g" cx="2070" cy="1159.3" r="6.64"/>
<circle class="g" cx="2078" cy="1159.3" r="6.64"/>
<circle class="g" cx="2078" cy="1159.3" r="6.64"/>
<circle class="g" cx="2083" cy="1159.3" r="6.64"/>
<circle class="g" cx="2083" cy="1159.3" r="6.64"/>
<circle class="g" cx="2088" cy="1159.3" r="6.64"/>
<circle class="g" cx="2088" cy="1159.3" r="6.64"/>
<circle class="g" cx="2092" cy="1159.3" r="6.64"/>
<circle class="g" cx="2099" cy="1159.3" r="6.64"/>
<circle class="g" cx="2099" cy="1159.3" r="6.64"/>
<circle class="g" cx="2104" cy="1159.3" r="6.64"/>
<circle class="g" cx="2104" cy="1159.3" r="6.64"/>
<circle class="g" cx="2108" cy="1159.3" r="6.64"/>
<circle class="g" cx="2114.5" cy="1159.3" r="6.64"/>
<circle class="g" cx="2122.5" cy="1159.3" r="6.64"/>
<circle class="g" cx="2122.5" cy="1159.3" r="6.64"/>
<circle class="g" cx="2126" cy="1159.3" r="6.64"/>
<circle class="g" cx="2135.5" cy="1159.3" r="6.64"/>
<circle class="g" cx="2135.5" cy="1159.3" r="6.64"/>
<circle class="g" cx="2140" cy="1159.3" r="6.64"/>
<circle class="g" cx="2146.8" cy="1159.3" r="6.64"/>
<circle class="g" cx="2146.8" cy="1159.3" r="6.64"/>
<circle class="g" cx="2151" cy="1159.3" r="6.64"/>
<circle class="g" cx="2155" cy="1159.3" r="6.64"/>
<circle class="g" cx="2157.4" cy="1159.3" r="6.64"/>
<circle class="g" cx="2159.8" cy="1159.3" r="6.64"/>
<circle class="g" cx="2162.2" cy="1159.3" r="6.64"/>
<circle class="g" cx="2164.6" cy="1159.3" r="6.64"/>
<circle class="g" cx="2167" cy="1159.3" r="6.64"/>
<circle class="g" cx="2169.4" cy="1159.3" r="6.64"/>
<circle class="g" cx="2171.8" cy="1159.3" r="6.64"/>
<circle class="g" cx="2174.2" cy="1159.3" r="6.64"/>
<circle class="g" cx="2176.6" cy="1159.3" r="6.64"/>
<circle class="g" cx="2179" cy="1159.3" r="6.64"/>
<circle class="g" cx="2181.4" cy="1159.3" r="6.64"/>
<circle class="g" cx="2183.8" cy="1159.3" r="6.64"/>
<circle class="g" cx="2186.2" cy="1159.3" r="6.64"/>
<circle class="g" cx="2188.6" cy="1159.3" r="6.64"/>
<circle class="g" cx="2191" cy="1159.3" r="6.64"/>
<circle class="g" cx="2193.4" cy="1159.3" r="6.64"/>
<circle class="g" cx="2195.8" cy="1159.3" r="6.64"/>
<circle class="g" cx="2198.2" cy="1159.3" r="6.64"/>
<circle class="g" cx="2200.6" cy="1159.3" r="6.64"/>
<circle class="g" cx="2203" cy="1159.3" r="6.64"/>
<circle class="g" cx="2205.4" cy="1159.3" r="6.64"/>
<circle class="g" cx="2207.8" cy="1159.3" r="6.64"/>
<circle class="g" cx="2210.2" cy="1159.3" r="6.64"/>
<circle class="g" cx="2212.6" cy="1159.3" r="6.64"/>
<circle class="g" cx="2215" cy="1159.3" r="6.64"/>
<circle class="g" cx="2217.4" cy="1159.3" r="6.64"/>
<circle class="g" cx="2219.8" cy="1159.3" r="6.64"/>
<circle class="g" cx="2222.2" cy="1159.3" r="6.64"/>
<circle class="g" cx="2224.6" cy="1159.3" r="6.64"/>
<circle class="g" cx="2227" cy="1159.3" r="6.64"/>
<circle class="g" cx="2229.4" cy="1159.3" r="6.64"/>
<circle class="g" cx="2231.8" cy="1159.3" r="6.64"/>
<circle class="g" cx="2234.2" cy="1159.3" r="6.64"/>
<circle class="g" cx="2236.6" cy="1159.3" r="6.64"/>
<circle class="g" cx="2239" cy="1159.3" r="6.64"/>
<circle class="g" cx="2241.4" cy="1159.3" r="6.64"/>
<circle class="g" cx="2243.8" cy="1159.3" r="6.64"/>
<circle class="g" cx="2246.2" cy="1159.3" r="6.64"/>
<circle class="g" cx="2248.6" cy="1159.3" r="6.64"/>
<circle class="g" cx="2251" cy="1159.3" r="6.64"/>
<circle class="g" cx="2253.4" cy="1159.3" r="6.64"/>
<circle class="g" cx="2255.8" cy="1159.3" r="6.64"/>
<circle class="g" cx="2258.2" cy="1159.3" r="6.64"/>
<circle class="g" cx="2260.6" cy="1159.3" r="6.64"/>
<circle class="g" cx="2263" cy="1159.3" r="6.64"/>
<circle class="g" cx="2265.4" cy="1159.3" r="6.64"/>
<circle class="g" cx="2267.8" cy="1159.3" r="6.64"/>
<circle class="g" cx="2270.2" cy="1159.3" r="6.64"/>
<circle class="g" cx="2272.6" cy="1159.3" r="6.64"/>
<circle class="g" cx="2275" cy="1159.3" r="6.64"/>
<circle class="g" cx="2277.4" cy="1159.3" r="6.64"/>
<circle class="g" cx="2279.8" cy="1159.3" r="6.64"/>
<circle class="g" cx="2282.2" cy="1159.3" r="6.64"/>
<circle class="g" cx="2284.6" cy="1159.3" r="6.64"/>
<circle class="g" cx="2287" cy="1159.3" r="6.64"/>
<circle class="g" cx="2289.4" cy="1159.3" r="6.64"/>
<circle class="g" cx="2291.8" cy="1159.3" r="6.64"/>
<circle class="g" cx="2294.2" cy="1159.3" r="6.64"/>
<circle class="g" cx="2296.6" cy="1159.3" r="6.64"/>
<circle class="g" cx="2299" cy="1159.3" r="6.64"/>
<circle class="g" cx="2301.4" cy="1159.3" r="6.64"/>
<circle class="g" cx="2303.8" cy="1159.3" r="6.64"/>
<circle class="g" cx="2306.2" cy="1159.3" r="6.64"/>
<circle class="g" cx="2308.6" cy="1159.3" r="6.64"/>
<circle class="g" cx="2311" cy="1159.3" r="6.64"/>
<circle class="g" cx="2313.4" cy="1159.3" r="6.64"/>
<circle class="g" cx="2315.8" cy="1159.3" r="6.64"/>
<circle class="g" cx="2318.2" cy="1159.3" r="6.64"/>
<circle class="g" cx="2320.6" cy="1159.3" r="6.64"/>
<circle class="g" cx="2323" cy="1159.3" r="6.64"/>
<circle class="g" cx="2325.4" cy="1159.3" r="6.64"/>
<circle class="g" cx="2327.8" cy="1159.3" r="6.64"/>
<circle class="g" cx="2330.2" cy="1159.3" r="6.64"/>
<circle class="g" cx="2332.6" cy="1159.3" r="6.64"/>
<circle class="g" cx="2335" cy="1159.3" r="6.64"/>
<circle class="g" cx="2337.4" cy="1159.3" r="6.64"/>
<circle class="g" cx="2339.8" cy="1159.3" r="6.64"/>
<circle class="g" cx="2342.2" cy="1159.3" r="6.64"/>
<circle class="g" cx="2344.6" cy="1159.3" r="6.64"/>
<circle class="g" cx="2347" cy="1159.3" r="6.64"/>
<circle class="g" cx="2349.4" cy="1159.3" r="6.64"/>
<circle class="g" cx="2351.8" cy="1159.3" r="6.64"/>
<circle class="g" cx="2354.2" cy="1159.3" r="6.64"/>
<circle class="g" cx="2356.6" cy="1159.3" r="6.64"/>
<circle class="g" cx="2359" cy="1159.3" r="6.64"/>
<circle class="g" cx="2361.4" cy="1159.3" r="6.64"/>
<circle class="g" cx="2363.8" cy="1159.3" r="6.64"/>
<circle class="g" cx="2366.2" cy="1159.3" r="6.64"/>
<circle class="g" cx="2368.6" cy="1159.3" r="6.64"/>
<circle class="g" cx="2371" cy="1159.3" r="6.64"/>
<circle class="g" cx="2373.4" cy="1159.3" r="6.64"/>
<circle class="g" cx="2375.8" cy="1159.3" r="6.64"/>
<circle class="g" cx="2378.2" cy="1159.3" r="6.64"/>
<circle class="g" cx="2380.6" cy="1159.3" r="6.64"/>
<circle class="g" cx="2383" cy="1159.3" r="6.64"/>
<circle class="g" cx="2385.4" cy="1159.3" r="6.64"/>
<circle class="g" cx="2387.8" cy="1159.3" r="6.64"/>
<circle class="g" cx="2390.2" cy="1159.3" r="6.64"/>
<circle class="g" cx="2392.6" cy="1159.3" r="6.64"/>
<circle class="g" cx="2395" cy="1159.3" r="6.64"/>
<circle class="g" cx="2397.4" cy="1159.3" r="6.64"/>
<circle class="g" cx="2399.8" cy="1159.3" r="6.64"/>
<circle class="g" cx="2402.2" cy="1159.3" r="6.64"/>
<circle class="g" cx="2404.6" cy="1159.3" r="6.64"/>
<circle class="g" cx="2407" cy="1159.3" r="6.64"/>
<circle class="g" cx="2409.4" cy="1159.3" r="6.64"/>
<circle class="g" cx="2411.8" cy="1159.3" r="6.64"/>
<circle class="g" cx="2414.2" cy="1159.3" r="6.64"/>
<circle class="g" cx="2416.6" cy="1159.3" r="6.64"/>
<circle class="g" cx="2419" cy="1159.3" r="6.64"/>
<circle class="g" cx="2421.4" cy="1159.3" r="6.64"/>
<circle class="g" cx="2423.8" cy="1159.3" r="6.64"/>
<circle class="g" cx="2426.2" cy="1159.3" r="6.64"/>
<circle class="g" cx="2428.6" cy="1159.3" r="6.64"/>
<circle class="g" cx="2431" cy="1159.3" r="6.64"/>
<circle class="g" cx="2433.4" cy="1159.3" r="6.64"/>
<circle class="g" cx="2435.8" cy="1159.3" r="6.64"/>
<circle class="g" cx="2438.2" cy="1159.3" r="6.64"/>
<circle class="g" cx="2440.6" cy="1159.3" r="6.64"/>
<circle class="g" cx="2443" cy="1159.3" r="6.64"/>
<circle class="g" cx="2445.4" cy="1159.3" r="6.64"/>
<circle class="g" cx="2447.8" cy="1159.3" r="6.64"/>
<circle class="g" cx="2450.2" cy="1159.3" r="6.64"/>
<circle class="g" cx="2452.6" cy="1159.3" r="6.64"/>
<circle class="g" cx="2455" cy="1159.3" r="6.64"/>
<circle class="g" cx="2457.4" cy="1159.3" r="6.64"/>
<circle class="g" cx="2459.8" cy="1159.3" r="6.64"/>
<circle class="g" cx="2462.2" cy="1159.3" r="6.64"/>
<circle class="g" cx="2464.6" cy="1159.3" r="6.64"/>
<circle class="g" cx="2467" cy="1159.3" r="6.64"/>
<circle class="g" cx="2469.4" cy="1159.3" r="6.64"/>
<circle class="g" cx="2471.8" cy="1159.3" r="6.64"/>
<circle class="g" cx="2474.2" cy="1159.3" r="6.64"/>
<circle class="g" cx="2476.6" cy="1159.3" r="6.64"/>
<circle class="g" cx="2479" cy="1159.3" r="6.64"/>
<circle class="g" cx="2481.4" cy="1159.3" r="6.64"/>
<circle class="g" cx="2483.8" cy="1159.3" r="6.64"/>
<circle class="g" cx="2486.2" cy="1159.3" r="6.64"/>
<circle class="g" cx="2488.6" cy="1159.3" r="6.64"/>
<circle class="g" cx="2491" cy="1159.3" r="6.64"/>
<circle class="g" cx="2493.4" cy="1159.3" r="6.64"/>
<circle class="g" cx="2495.8" cy="1159.3" r="6.64"/>
<circle class="g" cx="2498.2" cy="1159.3" r="6.64"/>
<circle class="g" cx="2500.6" cy="1159.3" r="6.64"/>
<circle class="g" cx="2503" cy="1159.3" r="6.64"/>
<circle class="g" cx="2505.4" cy="1159.3" r="6.64"/>
<circle class="g" cx="2507.8" cy="1159.3" r="6.64"/>
<circle class="g" cx="2510.2" cy="1159.3" r="6.64"/>
<circle class="g" cx="2512.6" cy="1159.3" r="6.64"/>
<circle class="g" cx="2515" cy="1159.3" r="6.64"/>
<circle class="g" cx="2517.4" cy="1159.3" r="6.64"/>
<circle class="g" cx="2519.8" cy="1159.3" r="6.64"/>
<circle class="g" cx="2522.2" cy="1159.3" r="6.64"/>
<circle class="g" cx="2524.6" cy="1159.3" r="6.64"/>
<circle class="g" cx="2527" cy="1159.3" r="6.64"/>
<circle class="g" cx="2529.4" cy="1159.3" r="6.64"/>
<circle class="g" cx="2531.8" cy="1159.3" r="6.64"/>
<circle class="g" cx="2534.2" cy="1159.3" r="6.64"/>
<circle class="g" cx="2536.6" cy="1159.3" r="6.64"/>
<circle class="g" cx="2539" cy="1159.3" r="6.64"/>
<circle class="g" cx="2541.4" cy="1159.3" r="6.64"/>
<circle class="g" cx="2543.8" cy="1159.3" r="6.64"/>
<circle class="g" cx="2546.2" cy="1159.3" r="6.64"/>
<circle class="g" cx="2548.6" cy="1159.3" r="6.64"/>
<circle class="g" cx="2551" cy="1159.3" r="6.64"/>
<circle class="g" cx="2553.4" cy="1159.3" r="6.64"/>
<circle class="g" cx="2555.8" cy="1159.3" r="6.64"/>
<circle class="g" cx="2558.2" cy="1159.3" r="6.64"/>
<circle class="g" cx="2560.6" cy="1159.3" r="6.64"/>
<circle class="g" cx="2563" cy="1159.3" r="6.64"/>
<circle class="g" cx="2565.4" cy="1159.3" r="6.64"/>
<circle class="g" cx="2567.8" cy="1159.3" r="6.64"/>
<circle class="g" cx="2570.2" cy="1159.3" r="6.64"/>
<circle class="g" cx="2572.6" cy="1159.3" r="6.64"/>
<circle class="g" cx="2575" cy="1159.3" r="6.64"/>
<circle class="g" cx="2577.4" cy="1159.3" r="6.64"/>
<circle class="g" cx="2579.8" cy="1159.3" r="6.64"/>
<circle class="g" cx="2582.2" cy="1159.3" r="6.64"/>
<circle class="g" cx="2584.6" cy="1159.3" r="6.64"/>
<circle class="g" cx="2587" cy="1159.3" r="6.64"/>
<circle class="g" cx="2589.4" cy="1159.3" r="6.64"/>
<circle class="g" cx="2591.8" cy="1159.3" r="6.64"/>
<circle class="g" cx="2594.2" cy="1159.3" r="6.64"/>
<circle class="g" cx="2596.6" cy="1159.3" r="6.64"/>
<circle class="g" cx="2599" cy="1159.3" r="6.64"/>
<circle class="g" cx="2601.4" cy="1159.3" r="6.64"/>
<circle class="g" cx="2603.8" cy="1159.3" r="6.64"/>
<circle class="g" cx="2606.2" cy="1159.3" r="6.64"/>
<circle class="g" cx="2608.6" cy="1159.3" r="6.64"/>
<circle class="g" cx="2611" cy="1159.3" r="6.64"/>
<circle class="g" cx="2613.4" cy="1159.3" r="6.64"/>
<circle class="g" cx="2615.8" cy="1159.3" r="6.64"/>
<circle class="g" cx="2618.2" cy="1159.3" r="6.64"/>
<circle class="g" cx="2620.6" cy="1159.3" r="6.64"/>
<circle class="g" cx="2623" cy="1159.3" r="6.64"/>
<circle class="g" cx="2625.4" cy="1159.3" r="6.64"/>
<circle class="g" cx="2627.8" cy="1159.3" r="6.64"/>
<circle class="g" cx="2630.2" cy="1159.3" r="6.64"/>
<circle class="g" cx="2632.6" cy="1159.3" r="6.64"/>
<circle class="g" cx="2635" cy="1159.3" r="6.64"/>
<circle class="g" cx="2637.4" cy="1159.3" r="6.64"/>
<circle class="g" cx="2639.8" cy="1159.3" r="6.64"/>
<circle class="g" cx="2642.2" cy="1159.3" r="6.64"/>
<circle class="g" cx="2644.6" cy="1159.3" r="6.64"/>
<circle class="g" cx="2647" cy="1159.3" r="6.64"/>
<circle class="g" cx="2649.4" cy="1159.3" r="6.64"/>
<circle class="g" cx="2651.8" cy="1159.3" r="6.64"/>
<circle class="g" cx="2654.2" cy="1159.3" r="6.64"/>
<circle class="g" cx="2656.6" cy="1159.3" r="6.64"/>
<circle class="g" cx="2659" cy="1159.3" r="6.64"/>
<circle class="g" cx="2661.4" cy="1159.3" r="6.64"/>
<circle class="g" cx="2663.8" cy="1159.3" r="6.64"/>
<circle class="g" cx="2666.2" cy="1159.3" r="6.64"/>
<circle class="g" cx="2668.6" cy="1159.3" r="6.64"/>
<circle class="g" cx="2671" cy="1159.3" r="6.64"/>
<circle class="g" cx="2673.4" cy="1159.3" r="6.64"/>
<circle class="g" cx="2675.8" cy="1159.3" r="6.64"/>
<circle class="g" cx="2678.2" cy="1159.3" r="6.64"/>
<circle class="g" cx="2680.6" cy="1159.3" r="6.64"/>
<circle class="g" cx="2683" cy="1159.3" r="6.64"/>
<circle class="g" cx="2685.4" cy="1159.3" r="6.64"/>
<circle class="g" cx="2687.8" cy="1159.3" r="6.64"/>
<circle class="g" cx="2690.2" cy="1159.3" r="6.64"/>
<circle class="g" cx="2692.6" cy="1159.3" r="6.64"/>
<circle class="g" cx="2695" cy="1159.3" r="6.64"/>
<circle class="g" cx="2697.4" cy="1159.3" r="6.64"/>
<circle class="g" cx="2699.8" cy="1159.3" r="6.64"/>
<circle class="g" cx="2702.2" cy="1159.3" r="6.64"/>
<circle class="g" cx="2704.6" cy="1159.3" r="6.64"/>
<circle class="g" cx="2707" cy="1159.3" r="6.64"/>
<circle class="g" cx="2709.4" cy="1159.3" r="6.64"/>
<circle class="g" cx="2711.8" cy="1159.3" r="6.64"/>
<circle class="g" cx="2714.2" cy="1159.3" r="6.64"/>
<circle class="g" cx="2716.6" cy="1159.3" r="6.64"/>
<circle class="g" cx="2719" cy="1159.3" r="6.64"/>
<circle class="g" cx="2721.4" cy="1159.3" r="6.64"/>
<circle class="g" cx="2723.8" cy="1159.3" r="6.64"/>
<circle class="g" cx="2726.2" cy="1159.3" r="6.64"/>
<circle class="g" cx="2728.6" cy="1159.3" r="6.64"/>
<circle class="g" cx="2731" cy="1159.3" r="6.64"/>
<circle class="g" cx="2733.4" cy="1159.3" r="6.64"/>
<circle class="g" cx="2735.8" cy="1159.3" r="6.64"/>
<circle class="g" cx="2738.2" cy="1159.3" r="6.64"/>
<circle class="g" cx="2740.6" cy="1159.3" r="6.64"/>
<circle class="g" cx="2743" cy="1159.3" r="6.64"/>
<circle class="g" cx="2745.4" cy="1159.3" r="6.64"/>
<circle class="g" cx="2747.8" cy="1159.3" r="6.64"/>
<circle class="g" cx="2750.2" cy="1159.3" r="6.64"/>
<circle class="g" cx="2752.6" cy="1159.3" r="6.64"/>
<circle class="g" cx="2755" cy="1159.3" r="6.64"/>
<circle class="g" cx="2757.4" cy="1159.3" r="6.64"/>
<circle class="g" cx="2759.8" cy="1159.3" r="6.64"/>
<circle class="g" cx="2762.2" cy="1159.3" r="6.64"/>
<circle class="g" cx="2764.6" cy="1159.3" r="6.64"/>
<circle class="g" cx="2771" cy="1159.3" r="6.64"/>
<circle class="g" cx="2777" cy="1159.3" r="6.64"/>
<circle class="g" cx="2785.5" cy="1159.3" r="6.64"/>
<circle class="g" cx="2785.5" cy="1159.3" r="6.64"/>
<circle class="g" cx="2795.2" cy="1159.3" r="6.64"/>
<circle class="g" cx="2802.5" cy="1159.3" r="6.64"/>
<circle class="g" cx="2806.2" cy="1159.3" r="6.64"/>
<circle class="g" cx="2806.2" cy="1159.3" r="6.64"/>
<circle class="g" cx="2814.6" cy="1159.3" r="6.64"/>
<circle class="g" cx="2820" cy="1159.3" r="6.64"/>
<circle class="g" cx="2820" cy="1159.3" r="6.64"/>
<circle class="g" cx="2823.1" cy="1159.3" r="6.64"/>
<circle class="g" cx="2835.3" cy="1159.3" r="6.64"/>
<circle class="g" cx="2838.9" cy="1159.3" r="6.64"/>
<circle class="g" cx="2838.9" cy="1159.3" r="6.64"/>
<circle class="g" cx="2842.5" cy="1159.3" r="6.64"/>
<circle class="g" cx="2846.2" cy="1159.3" r="6.64"/>
<circle class="g" cx="2849.8" cy="1159.3" r="6.64"/>
<circle class="g" cx="2860.2" cy="1159.3" r="6.64"/>
<circle class="g" cx="2869.2" cy="1159.3" r="6.64"/>
<circle class="g" cx="2872.9" cy="1159.3" r="6.64"/>
<circle class="g" cx="2872.9" cy="1159.3" r="6.64"/>
<circle class="g" cx="2884.5" cy="1159.3" r="6.64"/>
<circle class="g" cx="2931.1" cy="1159.3" r="6.64"/>
<circle class="r" cx="2192" cy="903.8" r="6.64"/>
<circle class="r" cx="2251.8" cy="864" r="6.64"/>
<circle class="r" cx="2277.2" cy="857.7" r="6.64"/>
<circle class="r" cx="2304.7" cy="860.4" r="6.64"/>
<circle class="r" cx="2331.9" cy="875.3" r="6.64"/>
<circle class="r" cx="2332.2" cy="905.7" r="6.64"/>
<circle class="r" cx="2326.7" cy="935.5" r="6.64"/>
<circle class="r" cx="2293.1" cy="993.9" r="6.64"/>
<circle class="r" cx="2305.4" cy="991.8" r="6.64"/>
<circle class="r" cx="2245" cy="1027.5" r="6.64"/>
<circle class="r" cx="2326.9" cy="1031.9" r="6.64"/>
<line class="ds" x1="2337.1" x2="2337.1" y1="1197.4" y2="359.7"/>
<line class="ds" x1="2497.3" x2="2497.3" y1="1197.4" y2="359.7"/>
<line class="ds" x1="1771.5" x2="3154.25" y1="1039.61" y2="1039.61"/>
<text class="lb" x="2191.2" y="928.8">PPDPF</text>
<text class="lb" x="2276.7" y="882.7">AVL9</text>
<text class="lb" x="2331.6" y="900">NDUFB7</text>
<text class="lb" x="2331.3" y="930.7">MBOAT1</text>
<text class="lb" x="2326.2" y="959.6">OST4</text>
<text class="lb" x="2305" y="1016.6">UCP2</text>
<text class="lb" x="2245.2" y="1052.8">MARCKS</text>
<line class="ax" x1="1771.5" x2="1771.5" y1="359.7" y2="1197.4"/>
<line class="ax" x1="1771.5" x2="3154.25" y1="1197.4" y2="1197.4"/>
<line class="tk" x1="1755.5" x2="1770" y1="1159.3" y2="1159.3"/>
<text class="at" text-anchor="end" transform="translate(1742.7 1194.8) scale(1 1.03)">0</text>
<line class="tk" x1="1755.5" x2="1770" y1="975.3" y2="975.3"/>
<text class="at" text-anchor="end" transform="translate(1742.7 1010.8) scale(1 1.03)">2</text>
<line class="tk" x1="1755.5" x2="1770" y1="791.3" y2="791.3"/>
<text class="at" text-anchor="end" transform="translate(1742.7 826.8) scale(1 1.03)">4</text>
<line class="tk" x1="1755.5" x2="1770" y1="607.3" y2="607.3"/>
<text class="at" text-anchor="end" transform="translate(1742.7 642.8) scale(1 1.03)">6</text>
<line class="tk" x1="1755.5" x2="1770" y1="423.3" y2="423.3"/>
<text class="at" text-anchor="end" transform="translate(1742.7 458.8) scale(1 1.03)">8</text>
<line class="tk" x1="1776.4" x2="1776.4" y1="1198.9" y2="1213.4"/>
<text class="at" text-anchor="middle" transform="translate(1775.8 1261.5) scale(1 1.03)">-4</text>
<line class="tk" x1="2096.8" x2="2096.8" y1="1198.9" y2="1213.4"/>
<text class="at" text-anchor="middle" transform="translate(2096.2 1261.5) scale(1 1.03)">-2</text>
<line class="tk" x1="2417.2" x2="2417.2" y1="1198.9" y2="1213.4"/>
<text class="at" text-anchor="middle" transform="translate(2416.6 1261.5) scale(1 1.03)">0</text>
<line class="tk" x1="2737.6" x2="2737.6" y1="1198.9" y2="1213.4"/>
<text class="at" text-anchor="middle" transform="translate(2737 1261.5) scale(1 1.03)">2</text>
<line class="tk" x1="3058" x2="3058" y1="1198.9" y2="1213.4"/>
<text class="at" text-anchor="middle" transform="translate(3057.4 1261.5) scale(1 1.03)">4</text>
<text class="al" y="1322.2"><tspan x="2288.4">Log</tspan><tspan class="sb" x="2368.8" dy="8.6">2</tspan><tspan x="2386.2" dy="-8.6"> fold change</tspan></text>
<text class="al" transform="translate(1680.25 870) rotate(-90)"><tspan x="0" y="4.7">−</tspan><tspan x="32.8" y="0">Log</tspan><tspan class="sb" x="113.6" y="9.3">10</tspan><tspan x="162" y="0" font-style="italic">P</tspan></text>
<text class="ti" x="1771.5" y="80.5">8.2 vs 8.0 DE Genes</text>
<text class="su" x="1771.5" y="149.9">LogFC cutoff: 0.5, p cutoff: 0.05</text>
<text class="su" text-anchor="end" letter-spacing=".15" x="3153.75" y="1400.6">Total = 14562 variables</text>
<circle class="g" cx="1981.15" cy="242.4" r="12.33"/>
<circle class="g" cx="2134.45" cy="242.4" r="12.33"/>
<circle class="g" cx="2372.05" cy="242.4" r="12.33"/>
<circle class="r" cx="2595.85" cy="242.4" r="12.33"/>
<text class="su" x="2030.95" y="255.7">NS</text>
<text class="su" y="253.3"><tspan x="2183.85">Log</tspan><tspan class="sb2" x="2246.35" dy="6.8">2</tspan><tspan x="2271.25" dy="-6.8">FC</tspan></text>
<text class="su" x="2421.95" y="255.7">p-value</text>
<text class="su" y="253"><tspan x="2646.05">p</tspan><tspan x="2674.2">−</tspan><tspan x="2701.95">value</tspan><tspan x="2799.85">and</tspan><tspan x="2871.05">log</tspan><tspan class="sb2" x="2921.15" dy="6.6">2</tspan><tspan x="2945.15" dy="-6.6">FC</tspan></text>
<line class="mn" x1="3370.7" x2="4753.45" y1="1078.5" y2="1078.5"/>
<line class="mn" x1="3370.7" x2="4753.45" y1="916.9" y2="916.9"/>
<line class="mn" x1="3370.7" x2="4753.45" y1="755.3" y2="755.3"/>
<line class="mn" x1="3370.7" x2="4753.45" y1="593.7" y2="593.7"/>
<line class="mn" x1="3370.7" x2="4753.45" y1="432.1" y2="432.1"/>
<line class="mn" x1="3460.8" x2="3460.8" y1="359.7" y2="1197.4"/>
<line class="mn" x1="3836.2" x2="3836.2" y1="359.7" y2="1197.4"/>
<line class="mn" x1="4211.6" x2="4211.6" y1="359.7" y2="1197.4"/>
<line class="mn" x1="4587" x2="4587" y1="359.7" y2="1197.4"/>
<line class="mj" x1="3370.7" x2="4753.45" y1="1159.3" y2="1159.3"/>
<line class="mj" x1="3370.7" x2="4753.45" y1="997.7" y2="997.7"/>
<line class="mj" x1="3370.7" x2="4753.45" y1="836.1" y2="836.1"/>
<line class="mj" x1="3370.7" x2="4753.45" y1="674.5" y2="674.5"/>
<line class="mj" x1="3370.7" x2="4753.45" y1="512.9" y2="512.9"/>
<line class="mj" x1="3648.5" x2="3648.5" y1="359.7" y2="1197.4"/>
<line class="mj" x1="4023.9" x2="4023.9" y1="359.7" y2="1197.4"/>
<line class="mj" x1="4399.3" x2="4399.3" y1="359.7" y2="1197.4"/>
<line class="bar" x1="3800" x2="4213" y1="1159.3" y2="1159.3"/>
<circle class="g" cx="3931.5" cy="915.5" r="6.64"/>
<circle class="g" cx="3960.3" cy="930.7" r="6.64"/>
<circle class="g" cx="3959.1" cy="1066.7" r="6.64"/>
<circle class="g" cx="3939.2" cy="1080.4" r="6.64"/>
<circle class="g" cx="3975.7" cy="1079.3" r="6.64"/>
<circle class="g" cx="4078.2" cy="1077.5" r="6.64"/>
<circle class="g" cx="3827.2" cy="1120.6" r="6.64"/>
<circle class="g" cx="3983.3" cy="1125.4" r="6.64"/>
<circle class="g" cx="3983.3" cy="1125.4" r="6.64"/>
<circle class="g" cx="3927.9" cy="1132.2" r="6.64"/>
<circle class="g" cx="3948.6" cy="1137.8" r="6.64"/>
<circle class="g" cx="3978.8" cy="1136.2" r="6.64"/>
<circle class="g" cx="3751.7" cy="1139" r="6.64"/>
<circle class="g" cx="3821.7" cy="1144.8" r="6.64"/>
<circle class="g" cx="3770.2" cy="1150.2" r="6.64"/>
<circle class="g" cx="4114.3" cy="1144.4" r="6.64"/>
<circle class="g" cx="4133.8" cy="1143.5" r="6.64"/>
<circle class="g" cx="4094.8" cy="1148.6" r="6.64"/>
<circle class="g" cx="4100.4" cy="1151.6" r="6.64"/>
<circle class="g" cx="3981.4" cy="1152.4" r="6.64"/>
<circle class="g" cx="3993.5" cy="1153.2" r="6.64"/>
<circle class="g" cx="3621.1" cy="1159.3" r="6.64"/>
<circle class="g" cx="3656.4" cy="1159.3" r="6.64"/>
<circle class="g" cx="3735.4" cy="1159.3" r="6.64"/>
<circle class="g" cx="3743.5" cy="1159.3" r="6.64"/>
<circle class="g" cx="3751.6" cy="1159.3" r="6.64"/>
<circle class="g" cx="3755.6" cy="1159.3" r="6.64"/>
<circle class="g" cx="3759.7" cy="1159.3" r="6.64"/>
<circle class="g" cx="3762.9" cy="1159.3" r="6.64"/>
<circle class="g" cx="3776.7" cy="1159.3" r="6.64"/>
<circle class="g" cx="3782.3" cy="1159.3" r="6.64"/>
<circle class="g" cx="3786.4" cy="1159.3" r="6.64"/>
<circle class="g" cx="3790" cy="1159.3" r="6.64"/>
<circle class="g" cx="3792.4" cy="1159.3" r="6.64"/>
<circle class="g" cx="3794.8" cy="1159.3" r="6.64"/>
<circle class="g" cx="3797.2" cy="1159.3" r="6.64"/>
<circle class="g" cx="3799.6" cy="1159.3" r="6.64"/>
<circle class="g" cx="3802" cy="1159.3" r="6.64"/>
<circle class="g" cx="3804.4" cy="1159.3" r="6.64"/>
<circle class="g" cx="3806.8" cy="1159.3" r="6.64"/>
<circle class="g" cx="3809.2" cy="1159.3" r="6.64"/>
<circle class="g" cx="3811.6" cy="1159.3" r="6.64"/>
<circle class="g" cx="3814" cy="1159.3" r="6.64"/>
<circle class="g" cx="3816.4" cy="1159.3" r="6.64"/>
<circle class="g" cx="3818.8" cy="1159.3" r="6.64"/>
<circle class="g" cx="3821.2" cy="1159.3" r="6.64"/>
<circle class="g" cx="3823.6" cy="1159.3" r="6.64"/>
<circle class="g" cx="3826" cy="1159.3" r="6.64"/>
<circle class="g" cx="3828.4" cy="1159.3" r="6.64"/>
<circle class="g" cx="3830.8" cy="1159.3" r="6.64"/>
<circle class="g" cx="3833.2" cy="1159.3" r="6.64"/>
<circle class="g" cx="3835.6" cy="1159.3" r="6.64"/>
<circle class="g" cx="3838" cy="1159.3" r="6.64"/>
<circle class="g" cx="3840.4" cy="1159.3" r="6.64"/>
<circle class="g" cx="3842.8" cy="1159.3" r="6.64"/>
<circle class="g" cx="3845.2" cy="1159.3" r="6.64"/>
<circle class="g" cx="3847.6" cy="1159.3" r="6.64"/>
<circle class="g" cx="3850" cy="1159.3" r="6.64"/>
<circle class="g" cx="3852.4" cy="1159.3" r="6.64"/>
<circle class="g" cx="3854.8" cy="1159.3" r="6.64"/>
<circle class="g" cx="3857.2" cy="1159.3" r="6.64"/>
<circle class="g" cx="3859.6" cy="1159.3" r="6.64"/>
<circle class="g" cx="3862" cy="1159.3" r="6.64"/>
<circle class="g" cx="3864.4" cy="1159.3" r="6.64"/>
<circle class="g" cx="3866.8" cy="1159.3" r="6.64"/>
<circle class="g" cx="3869.2" cy="1159.3" r="6.64"/>
<circle class="g" cx="3871.6" cy="1159.3" r="6.64"/>
<circle class="g" cx="3874" cy="1159.3" r="6.64"/>
<circle class="g" cx="3876.4" cy="1159.3" r="6.64"/>
<circle class="g" cx="3878.8" cy="1159.3" r="6.64"/>
<circle class="g" cx="3881.2" cy="1159.3" r="6.64"/>
<circle class="g" cx="3883.6" cy="1159.3" r="6.64"/>
<circle class="g" cx="3886" cy="1159.3" r="6.64"/>
<circle class="g" cx="3888.4" cy="1159.3" r="6.64"/>
<circle class="g" cx="3890.8" cy="1159.3" r="6.64"/>
<circle class="g" cx="3893.2" cy="1159.3" r="6.64"/>
<circle class="g" cx="3895.6" cy="1159.3" r="6.64"/>
<circle class="g" cx="3898" cy="1159.3" r="6.64"/>
<circle class="g" cx="3900.4" cy="1159.3" r="6.64"/>
<circle class="g" cx="3902.8" cy="1159.3" r="6.64"/>
<circle class="g" cx="3905.2" cy="1159.3" r="6.64"/>
<circle class="g" cx="3907.6" cy="1159.3" r="6.64"/>
<circle class="g" cx="3910" cy="1159.3" r="6.64"/>
<circle class="g" cx="3912.4" cy="1159.3" r="6.64"/>
<circle class="g" cx="3914.8" cy="1159.3" r="6.64"/>
<circle class="g" cx="3917.2" cy="1159.3" r="6.64"/>
<circle class="g" cx="3919.6" cy="1159.3" r="6.64"/>
<circle class="g" cx="3922" cy="1159.3" r="6.64"/>
<circle class="g" cx="3924.4" cy="1159.3" r="6.64"/>
<circle class="g" cx="3926.8" cy="1159.3" r="6.64"/>
<circle class="g" cx="3929.2" cy="1159.3" r="6.64"/>
<circle class="g" cx="3931.6" cy="1159.3" r="6.64"/>
<circle class="g" cx="3934" cy="1159.3" r="6.64"/>
<circle class="g" cx="3936.4" cy="1159.3" r="6.64"/>
<circle class="g" cx="3938.8" cy="1159.3" r="6.64"/>
<circle class="g" cx="3941.2" cy="1159.3" r="6.64"/>
<circle class="g" cx="3943.6" cy="1159.3" r="6.64"/>
<circle class="g" cx="3946" cy="1159.3" r="6.64"/>
<circle class="g" cx="3948.4" cy="1159.3" r="6.64"/>
<circle class="g" cx="3950.8" cy="1159.3" r="6.64"/>
<circle class="g" cx="3953.2" cy="1159.3" r="6.64"/>
<circle class="g" cx="3955.6" cy="1159.3" r="6.64"/>
<circle class="g" cx="3958" cy="1159.3" r="6.64"/>
<circle class="g" cx="3960.4" cy="1159.3" r="6.64"/>
<circle class="g" cx="3962.8" cy="1159.3" r="6.64"/>
<circle class="g" cx="3965.2" cy="1159.3" r="6.64"/>
<circle class="g" cx="3967.6" cy="1159.3" r="6.64"/>
<circle class="g" cx="3970" cy="1159.3" r="6.64"/>
<circle class="g" cx="3972.4" cy="1159.3" r="6.64"/>
<circle class="g" cx="3974.8" cy="1159.3" r="6.64"/>
<circle class="g" cx="3977.2" cy="1159.3" r="6.64"/>
<circle class="g" cx="3979.6" cy="1159.3" r="6.64"/>
<circle class="g" cx="3982" cy="1159.3" r="6.64"/>
<circle class="g" cx="3984.4" cy="1159.3" r="6.64"/>
<circle class="g" cx="3986.8" cy="1159.3" r="6.64"/>
<circle class="g" cx="3989.2" cy="1159.3" r="6.64"/>
<circle class="g" cx="3991.6" cy="1159.3" r="6.64"/>
<circle class="g" cx="3994" cy="1159.3" r="6.64"/>
<circle class="g" cx="3996.4" cy="1159.3" r="6.64"/>
<circle class="g" cx="3998.8" cy="1159.3" r="6.64"/>
<circle class="g" cx="4001.2" cy="1159.3" r="6.64"/>
<circle class="g" cx="4003.6" cy="1159.3" r="6.64"/>
<circle class="g" cx="4006" cy="1159.3" r="6.64"/>
<circle class="g" cx="4008.4" cy="1159.3" r="6.64"/>
<circle class="g" cx="4010.8" cy="1159.3" r="6.64"/>
<circle class="g" cx="4013.2" cy="1159.3" r="6.64"/>
<circle class="g" cx="4015.6" cy="1159.3" r="6.64"/>
<circle class="g" cx="4018" cy="1159.3" r="6.64"/>
<circle class="g" cx="4020.4" cy="1159.3" r="6.64"/>
<circle class="g" cx="4022.8" cy="1159.3" r="6.64"/>
<circle class="g" cx="4025.2" cy="1159.3" r="6.64"/>
<circle class="g" cx="4027.6" cy="1159.3" r="6.64"/>
<circle class="g" cx="4030" cy="1159.3" r="6.64"/>
<circle class="g" cx="4032.4" cy="1159.3" r="6.64"/>
<circle class="g" cx="4034.8" cy="1159.3" r="6.64"/>
<circle class="g" cx="4037.2" cy="1159.3" r="6.64"/>
<circle class="g" cx="4039.6" cy="1159.3" r="6.64"/>
<circle class="g" cx="4042" cy="1159.3" r="6.64"/>
<circle class="g" cx="4044.4" cy="1159.3" r="6.64"/>
<circle class="g" cx="4046.8" cy="1159.3" r="6.64"/>
<circle class="g" cx="4049.2" cy="1159.3" r="6.64"/>
<circle class="g" cx="4051.6" cy="1159.3" r="6.64"/>
<circle class="g" cx="4054" cy="1159.3" r="6.64"/>
<circle class="g" cx="4056.4" cy="1159.3" r="6.64"/>
<circle class="g" cx="4058.8" cy="1159.3" r="6.64"/>
<circle class="g" cx="4061.2" cy="1159.3" r="6.64"/>
<circle class="g" cx="4063.6" cy="1159.3" r="6.64"/>
<circle class="g" cx="4066" cy="1159.3" r="6.64"/>
<circle class="g" cx="4068.4" cy="1159.3" r="6.64"/>
<circle class="g" cx="4070.8" cy="1159.3" r="6.64"/>
<circle class="g" cx="4073.2" cy="1159.3" r="6.64"/>
<circle class="g" cx="4075.6" cy="1159.3" r="6.64"/>
<circle class="g" cx="4078" cy="1159.3" r="6.64"/>
<circle class="g" cx="4080.4" cy="1159.3" r="6.64"/>
<circle class="g" cx="4082.8" cy="1159.3" r="6.64"/>
<circle class="g" cx="4085.2" cy="1159.3" r="6.64"/>
<circle class="g" cx="4087.6" cy="1159.3" r="6.64"/>
<circle class="g" cx="4090" cy="1159.3" r="6.64"/>
<circle class="g" cx="4092.4" cy="1159.3" r="6.64"/>
<circle class="g" cx="4094.8" cy="1159.3" r="6.64"/>
<circle class="g" cx="4097.2" cy="1159.3" r="6.64"/>
<circle class="g" cx="4099.6" cy="1159.3" r="6.64"/>
<circle class="g" cx="4102" cy="1159.3" r="6.64"/>
<circle class="g" cx="4104.4" cy="1159.3" r="6.64"/>
<circle class="g" cx="4106.8" cy="1159.3" r="6.64"/>
<circle class="g" cx="4109.2" cy="1159.3" r="6.64"/>
<circle class="g" cx="4111.6" cy="1159.3" r="6.64"/>
<circle class="g" cx="4114" cy="1159.3" r="6.64"/>
<circle class="g" cx="4116.4" cy="1159.3" r="6.64"/>
<circle class="g" cx="4118.8" cy="1159.3" r="6.64"/>
<circle class="g" cx="4121.2" cy="1159.3" r="6.64"/>
<circle class="g" cx="4123.6" cy="1159.3" r="6.64"/>
<circle class="g" cx="4126" cy="1159.3" r="6.64"/>
<circle class="g" cx="4128.4" cy="1159.3" r="6.64"/>
<circle class="g" cx="4130.8" cy="1159.3" r="6.64"/>
<circle class="g" cx="4133.2" cy="1159.3" r="6.64"/>
<circle class="g" cx="4135.6" cy="1159.3" r="6.64"/>
<circle class="g" cx="4138" cy="1159.3" r="6.64"/>
<circle class="g" cx="4140.4" cy="1159.3" r="6.64"/>
<circle class="g" cx="4142.8" cy="1159.3" r="6.64"/>
<circle class="g" cx="4145.2" cy="1159.3" r="6.64"/>
<circle class="g" cx="4147.6" cy="1159.3" r="6.64"/>
<circle class="g" cx="4150" cy="1159.3" r="6.64"/>
<circle class="g" cx="4152.4" cy="1159.3" r="6.64"/>
<circle class="g" cx="4154.8" cy="1159.3" r="6.64"/>
<circle class="g" cx="4157.2" cy="1159.3" r="6.64"/>
<circle class="g" cx="4159.6" cy="1159.3" r="6.64"/>
<circle class="g" cx="4162" cy="1159.3" r="6.64"/>
<circle class="g" cx="4164.4" cy="1159.3" r="6.64"/>
<circle class="g" cx="4166.8" cy="1159.3" r="6.64"/>
<circle class="g" cx="4169.2" cy="1159.3" r="6.64"/>
<circle class="g" cx="4171.6" cy="1159.3" r="6.64"/>
<circle class="g" cx="4174" cy="1159.3" r="6.64"/>
<circle class="g" cx="4176.4" cy="1159.3" r="6.64"/>
<circle class="g" cx="4178.8" cy="1159.3" r="6.64"/>
<circle class="g" cx="4181.2" cy="1159.3" r="6.64"/>
<circle class="g" cx="4183.6" cy="1159.3" r="6.64"/>
<circle class="g" cx="4186" cy="1159.3" r="6.64"/>
<circle class="g" cx="4188.4" cy="1159.3" r="6.64"/>
<circle class="g" cx="4190.8" cy="1159.3" r="6.64"/>
<circle class="g" cx="4193.2" cy="1159.3" r="6.64"/>
<circle class="g" cx="4195.6" cy="1159.3" r="6.64"/>
<circle class="g" cx="4198" cy="1159.3" r="6.64"/>
<circle class="g" cx="4200.4" cy="1159.3" r="6.64"/>
<circle class="g" cx="4202.8" cy="1159.3" r="6.64"/>
<circle class="g" cx="4205.2" cy="1159.3" r="6.64"/>
<circle class="g" cx="4207.6" cy="1159.3" r="6.64"/>
<circle class="g" cx="4210" cy="1159.3" r="6.64"/>
<circle class="g" cx="4212.4" cy="1159.3" r="6.64"/>
<circle class="g" cx="4214.8" cy="1159.3" r="6.64"/>
<circle class="g" cx="4217.2" cy="1159.3" r="6.64"/>
<circle class="g" cx="4219.6" cy="1159.3" r="6.64"/>
<circle class="g" cx="4222" cy="1159.3" r="6.64"/>
<circle class="g" cx="4224.4" cy="1159.3" r="6.64"/>
<circle class="g" cx="4226.8" cy="1159.3" r="6.64"/>
<circle class="g" cx="4229.2" cy="1159.3" r="6.64"/>
<circle class="g" cx="4231.6" cy="1159.3" r="6.64"/>
<circle class="g" cx="4234" cy="1159.3" r="6.64"/>
<circle class="g" cx="4236.4" cy="1159.3" r="6.64"/>
<circle class="g" cx="4238.8" cy="1159.3" r="6.64"/>
<circle class="g" cx="4241.2" cy="1159.3" r="6.64"/>
<circle class="g" cx="4243.6" cy="1159.3" r="6.64"/>
<circle class="g" cx="4246" cy="1159.3" r="6.64"/>
<circle class="g" cx="4248.4" cy="1159.3" r="6.64"/>
<circle class="g" cx="4250.8" cy="1159.3" r="6.64"/>
<circle class="g" cx="4253.2" cy="1159.3" r="6.64"/>
<circle class="g" cx="4263.5" cy="1159.3" r="6.64"/>
<circle class="g" cx="4263.5" cy="1159.3" r="6.64"/>
<circle class="g" cx="4263.5" cy="1159.3" r="6.64"/>
<circle class="g" cx="4273.2" cy="1159.3" r="6.64"/>
<circle class="g" cx="4273.2" cy="1159.3" r="6.64"/>
<circle class="g" cx="4285" cy="1159.3" r="6.64"/>
<circle class="g" cx="4301.5" cy="1159.3" r="6.64"/>
<circle class="g" cx="4315.2" cy="1159.3" r="6.64"/>
<circle class="g" cx="4315.2" cy="1159.3" r="6.64"/>
<circle class="g" cx="4322.5" cy="1159.3" r="6.64"/>
<circle class="g" cx="4327" cy="1159.3" r="6.64"/>
<circle class="g" cx="4327" cy="1159.3" r="6.64"/>
<circle class="g" cx="4331.4" cy="1159.3" r="6.64"/>
<circle class="g" cx="4331.4" cy="1159.3" r="6.64"/>
<circle class="g" cx="4341.9" cy="1159.3" r="6.64"/>
<circle class="g" cx="4346" cy="1159.3" r="6.64"/>
<circle class="g" cx="4383.5" cy="1159.3" r="6.64"/>
<circle class="g" cx="4399.8" cy="1159.3" r="6.64"/>
<circle class="g" cx="4407.4" cy="1159.3" r="6.64"/>
<circle class="g" cx="4417.8" cy="1159.3" r="6.64"/>
<circle class="r" cx="3708.3" cy="895.6" r="6.64"/>
<circle class="r" cx="3888.1" cy="933.1" r="6.64"/>
<circle class="r" cx="3892" cy="968.9" r="6.64"/>
<circle class="r" cx="3870.5" cy="985.4" r="6.64"/>
<circle class="r" cx="3884.6" cy="1002.3" r="6.64"/>
<circle class="r" cx="3858.8" cy="1017.7" r="6.64"/>
<circle class="r" cx="3920.2" cy="1041.5" r="6.64"/>
<circle class="r" cx="3826.7" cy="1061" r="6.64"/>
<circle class="r" cx="3834.4" cy="1079" r="6.64"/>
<circle class="r" cx="3778.6" cy="1086.9" r="6.64"/>
<circle class="r" cx="3897.2" cy="1082.9" r="6.64"/>
<circle class="r" cx="3897.2" cy="1082.9" r="6.64"/>
<circle class="r" cx="3928.8" cy="1079.6" r="6.64"/>
<circle class="r" cx="3853.1" cy="1106.5" r="6.64"/>
<circle class="r" cx="3925.1" cy="1108.4" r="6.64"/>
<circle class="r" cx="4177" cy="1081.7" r="6.64"/>
<circle class="r" cx="4502.7" cy="559.3" r="6.64"/>
<line class="ds" x1="3930.05" x2="3930.05" y1="1197.4" y2="359.7"/>
<line class="ds" x1="4117.75" x2="4117.75" y1="1197.4" y2="359.7"/>
<line class="ds" x1="3370.7" x2="4753.45" y1="1117.25" y2="1117.25"/>
<text class="lb" x="3707.4" y="920.7">UBE2E1</text>
<text class="lb" x="3887.8" y="957.7">DDX6</text>
<text class="lb" x="3891.9" y="993.6">NEK5</text>
<text class="lb" x="3870.5" y="1009.8">HN1L</text>
<text class="lb" x="3884.2" y="1026.8">APP</text>
<text class="lb" x="3920.1" y="1065.6">ACTR2</text>
<text class="lb" x="3826.6" y="1085.5">MIDN</text>
<text class="lb" x="3833.1" y="1103.3">CBX1</text>
<text class="lb" x="3928.8" y="1104.5">ATF6B</text>
<text class="lb" x="3853.2" y="1131.5">CCNK</text>
<text class="lb" x="3924.6" y="1132.7">NEAT1</text>
<text class="lb" x="4176.2" y="1106.7">COTL1</text>
<text class="lb" x="4502.8" y="583.9">GRM5</text>
<line class="ax" x1="3370.7" x2="3370.7" y1="359.7" y2="1197.4"/>
<line class="ax" x1="3370.7" x2="4753.45" y1="1197.4" y2="1197.4"/>
<line class="tk" x1="3354.7" x2="3369.2" y1="1159.3" y2="1159.3"/>
<text class="at" text-anchor="end" transform="translate(3341.9 1194.8) scale(1 1.03)">0</text>
<line class="tk" x1="3354.7" x2="3369.2" y1="997.7" y2="997.7"/>
<text class="at" text-anchor="end" transform="translate(3341.9 1033.2) scale(1 1.03)">5</text>
<line class="tk" x1="3354.7" x2="3369.2" y1="836.1" y2="836.1"/>
<text class="at" text-anchor="end" transform="translate(3341.9 871.6) scale(1 1.03)">10</text>
<line class="tk" x1="3354.7" x2="3369.2" y1="674.5" y2="674.5"/>
<text class="at" text-anchor="end" transform="translate(3341.9 710) scale(1 1.03)">15</text>
<line class="tk" x1="3354.7" x2="3369.2" y1="512.9" y2="512.9"/>
<text class="at" text-anchor="end" transform="translate(3341.9 548.4) scale(1 1.03)">20</text>
<line class="tk" x1="3648.5" x2="3648.5" y1="1198.9" y2="1213.4"/>
<text class="at" text-anchor="middle" transform="translate(3647.9 1261.5) scale(1 1.03)">-2</text>
<line class="tk" x1="4023.9" x2="4023.9" y1="1198.9" y2="1213.4"/>
<text class="at" text-anchor="middle" transform="translate(4023.3 1261.5) scale(1 1.03)">0</text>
<line class="tk" x1="4399.3" x2="4399.3" y1="1198.9" y2="1213.4"/>
<text class="at" text-anchor="middle" transform="translate(4398.7 1261.5) scale(1 1.03)">2</text>
<text class="al" y="1322.2"><tspan x="3887.6">Log</tspan><tspan class="sb" x="3968" dy="8.6">2</tspan><tspan x="3985.4" dy="-8.6"> fold change</tspan></text>
<text class="al" transform="translate(3252.2 870) rotate(-90)"><tspan x="0" y="4.7">−</tspan><tspan x="32.8" y="0">Log</tspan><tspan class="sb" x="113.6" y="9.3">10</tspan><tspan x="162" y="0" font-style="italic">P</tspan></text>
<text class="ti" x="3370.7" y="80.5">8.1 vs 8.2 DE Genes</text>
<text class="su" x="3370.7" y="149.9">LogFC cutoff: 0.5, p cutoff: 0.05</text>
<text class="su" text-anchor="end" letter-spacing=".15" x="4752.95" y="1400.6">Total = 14292 variables</text>
<circle class="g" cx="3580.35" cy="242.4" r="12.33"/>
<circle class="g" cx="3733.65" cy="242.4" r="12.33"/>
<circle class="g" cx="3971.25" cy="242.4" r="12.33"/>
<circle class="r" cx="4195.05" cy="242.4" r="12.33"/>
<text class="su" x="3630.15" y="255.7">NS</text>
<text class="su" y="253.3"><tspan x="3783.05">Log</tspan><tspan class="sb2" x="3845.55" dy="6.8">2</tspan><tspan x="3870.45" dy="-6.8">FC</tspan></text>
<text class="su" x="4021.15" y="255.7">p-value</text>
<text class="su" y="253"><tspan x="4245.25">p</tspan><tspan x="4273.4">−</tspan><tspan x="4301.15">value</tspan><tspan x="4399.05">and</tspan><tspan x="4470.25">log</tspan><tspan class="sb2" x="4520.35" dy="6.6">2</tspan><tspan x="4544.35" dy="-6.6">FC</tspan></text>
<line class="mn" x1="199" x2="1581.75" y1="2459.95" y2="2459.95"/>
<line class="mn" x1="199" x2="1581.75" y1="2210.35" y2="2210.35"/>
<line class="mn" x1="199" x2="1581.75" y1="1960.75" y2="1960.75"/>
<line class="mn" x1="291" x2="291" y1="1785.1" y2="2622.8"/>
<line class="mn" x1="604" x2="604" y1="1785.1" y2="2622.8"/>
<line class="mn" x1="917" x2="917" y1="1785.1" y2="2622.8"/>
<line class="mn" x1="1230" x2="1230" y1="1785.1" y2="2622.8"/>
<line class="mn" x1="1543" x2="1543" y1="1785.1" y2="2622.8"/>
<line class="mj" x1="199" x2="1581.75" y1="2584.75" y2="2584.75"/>
<line class="mj" x1="199" x2="1581.75" y1="2335.15" y2="2335.15"/>
<line class="mj" x1="199" x2="1581.75" y1="2085.55" y2="2085.55"/>
<line class="mj" x1="199" x2="1581.75" y1="1835.95" y2="1835.95"/>
<line class="mj" x1="447.5" x2="447.5" y1="1785.1" y2="2622.8"/>
<line class="mj" x1="760.5" x2="760.5" y1="1785.1" y2="2622.8"/>
<line class="mj" x1="1073.5" x2="1073.5" y1="1785.1" y2="2622.8"/>
<line class="mj" x1="1386.5" x2="1386.5" y1="1785.1" y2="2622.8"/>
<circle class="g" cx="632.5" cy="2447.2" r="6.64"/>
<circle class="g" cx="574.8" cy="2584.75" r="6.64"/>
<circle class="g" cx="609.2" cy="2584.75" r="6.64"/>
<circle class="g" cx="638.1" cy="2584.75" r="6.64"/>
<circle class="g" cx="641.9" cy="2584.75" r="6.64"/>
<circle class="g" cx="645.1" cy="2584.75" r="6.64"/>
<circle class="g" cx="651.6" cy="2584.75" r="6.64"/>
<circle class="g" cx="655.6" cy="2584.75" r="6.64"/>
<circle class="g" cx="658.8" cy="2584.75" r="6.64"/>
<circle class="g" cx="664.5" cy="2584.75" r="6.64"/>
<circle class="g" cx="668.8" cy="2584.75" r="6.64"/>
<circle class="g" cx="669.8" cy="2584.75" r="6.64"/>
<circle class="g" cx="683" cy="2584.75" r="6.64"/>
<circle class="g" cx="683.6" cy="2584.75" r="6.64"/>
<circle class="g" cx="684.2" cy="2584.75" r="6.64"/>
<circle class="g" cx="684.8" cy="2584.75" r="6.64"/>
<circle class="g" cx="692" cy="2584.75" r="6.64"/>
<circle class="g" cx="696" cy="2584.75" r="6.64"/>
<circle class="g" cx="700" cy="2584.75" r="6.64"/>
<circle class="g" cx="708" cy="2584.75" r="6.64"/>
<circle class="g" cx="710" cy="2584.75" r="6.64"/>
<circle class="g" cx="712" cy="2584.75" r="6.64"/>
<circle class="g" cx="714" cy="2584.75" r="6.64"/>
<circle class="g" cx="716" cy="2584.75" r="6.64"/>
<circle class="g" cx="718" cy="2584.75" r="6.64"/>
<circle class="g" cx="725.5" cy="2584.75" r="6.64"/>
<circle class="g" cx="726.5" cy="2584.75" r="6.64"/>
<circle class="g" cx="734" cy="2584.75" r="6.64"/>
<circle class="g" cx="820.5" cy="2584.75" r="6.64"/>
<circle class="g" cx="831" cy="2584.75" r="6.64"/>
<circle class="g" cx="833.5" cy="2584.75" r="6.64"/>
<circle class="g" cx="836" cy="2584.75" r="6.64"/>
<circle class="g" cx="844" cy="2584.75" r="6.64"/>
<circle class="g" cx="850.4" cy="2584.75" r="6.64"/>
<circle class="g" cx="853" cy="2584.75" r="6.64"/>
<circle class="g" cx="856" cy="2584.75" r="6.64"/>
<circle class="g" cx="859" cy="2584.75" r="6.64"/>
<circle class="g" cx="861.7" cy="2584.75" r="6.64"/>
<circle class="g" cx="871.4" cy="2584.75" r="6.64"/>
<circle class="g" cx="882.4" cy="2584.75" r="6.64"/>
<circle class="g" cx="894.1" cy="2584.75" r="6.64"/>
<circle class="g" cx="895.4" cy="2584.75" r="6.64"/>
<circle class="g" cx="902.2" cy="2584.75" r="6.64"/>
<circle class="g" cx="905.4" cy="2584.75" r="6.64"/>
<circle class="g" cx="911.9" cy="2584.75" r="6.64"/>
<circle class="g" cx="918.3" cy="2584.75" r="6.64"/>
<circle class="g" cx="921.2" cy="2584.75" r="6.64"/>
<circle class="g" cx="925" cy="2584.75" r="6.64"/>
<circle class="g" cx="928" cy="2584.75" r="6.64"/>
<circle class="g" cx="955.2" cy="2584.75" r="6.64"/>
<circle class="g" cx="961.6" cy="2584.75" r="6.64"/>
<circle class="g" cx="972.2" cy="2584.75" r="6.64"/>
<circle class="g" cx="978.3" cy="2584.75" r="6.64"/>
<circle class="g" cx="1015.3" cy="2584.75" r="6.64"/>
<circle class="g" cx="1092.6" cy="2584.75" r="6.64"/>
<circle class="g" cx="1109.1" cy="2584.75" r="6.64"/>
<circle class="g" cx="1131.1" cy="2584.75" r="6.64"/>
<circle class="g" cx="1144.7" cy="2584.75" r="6.64"/>
<circle class="g" cx="1206.1" cy="2584.75" r="6.64"/>
<circle class="g" cx="738.9" cy="2584.75" r="6.64"/>
<circle class="g" cx="740.48" cy="2584.75" r="6.64"/>
<circle class="g" cx="742.06" cy="2584.75" r="6.64"/>
<circle class="g" cx="743.64" cy="2584.75" r="6.64"/>
<circle class="g" cx="745.22" cy="2584.75" r="6.64"/>
<circle class="g" cx="746.8" cy="2584.75" r="6.64"/>
<circle class="g" cx="748.39" cy="2584.75" r="6.64"/>
<circle class="g" cx="749.97" cy="2584.75" r="6.64"/>
<circle class="g" cx="751.55" cy="2584.75" r="6.64"/>
<circle class="g" cx="753.13" cy="2584.75" r="6.64"/>
<circle class="g" cx="754.71" cy="2584.75" r="6.64"/>
<circle class="g" cx="756.29" cy="2584.75" r="6.64"/>
<circle class="g" cx="757.87" cy="2584.75" r="6.64"/>
<circle class="g" cx="759.45" cy="2584.75" r="6.64"/>
<circle class="g" cx="761.03" cy="2584.75" r="6.64"/>
<circle class="g" cx="762.61" cy="2584.75" r="6.64"/>
<circle class="g" cx="764.19" cy="2584.75" r="6.64"/>
<circle class="g" cx="765.77" cy="2584.75" r="6.64"/>
<circle class="g" cx="767.36" cy="2584.75" r="6.64"/>
<circle class="g" cx="768.94" cy="2584.75" r="6.64"/>
<circle class="g" cx="770.52" cy="2584.75" r="6.64"/>
<circle class="g" cx="772.1" cy="2584.75" r="6.64"/>
<circle class="g" cx="773.68" cy="2584.75" r="6.64"/>
<circle class="g" cx="775.26" cy="2584.75" r="6.64"/>
<circle class="g" cx="776.84" cy="2584.75" r="6.64"/>
<circle class="g" cx="778.42" cy="2584.75" r="6.64"/>
<circle class="g" cx="780" cy="2584.75" r="6.64"/>
<circle class="g" cx="781.58" cy="2584.75" r="6.64"/>
<circle class="g" cx="783.16" cy="2584.75" r="6.64"/>
<circle class="g" cx="784.74" cy="2584.75" r="6.64"/>
<circle class="g" cx="786.33" cy="2584.75" r="6.64"/>
<circle class="g" cx="787.91" cy="2584.75" r="6.64"/>
<circle class="g" cx="789.49" cy="2584.75" r="6.64"/>
<circle class="g" cx="791.07" cy="2584.75" r="6.64"/>
<circle class="g" cx="792.65" cy="2584.75" r="6.64"/>
<circle class="g" cx="794.23" cy="2584.75" r="6.64"/>
<circle class="g" cx="795.81" cy="2584.75" r="6.64"/>
<circle class="g" cx="797.39" cy="2584.75" r="6.64"/>
<circle class="g" cx="798.97" cy="2584.75" r="6.64"/>
<circle class="g" cx="800.55" cy="2584.75" r="6.64"/>
<circle class="g" cx="802.13" cy="2584.75" r="6.64"/>
<circle class="g" cx="803.71" cy="2584.75" r="6.64"/>
<circle class="g" cx="805.3" cy="2584.75" r="6.64"/>
<circle class="g" cx="806.88" cy="2584.75" r="6.64"/>
<circle class="g" cx="808.46" cy="2584.75" r="6.64"/>
<circle class="g" cx="810.04" cy="2584.75" r="6.64"/>
<circle class="g" cx="811.62" cy="2584.75" r="6.64"/>
<circle class="g" cx="813.2" cy="2584.75" r="6.64"/>
<line class="ds" x1="604" x2="604" y1="2622.8" y2="1785.1"/>
<line class="ds" x1="917" x2="917" y1="2622.8" y2="1785.1"/>
<line class="ds" x1="199" x2="1581.75" y1="2422.38" y2="2422.38"/>
<line class="ax" x1="199" x2="199" y1="1785.1" y2="2622.8"/>
<line class="ax" x1="199" x2="1581.75" y1="2622.8" y2="2622.8"/>
<line class="tk" x1="183" x2="197.5" y1="2584.75" y2="2584.75"/>
<text class="at" text-anchor="end" transform="translate(170.2 2620.25) scale(1 1.03)">0</text>
<line class="tk" x1="183" x2="197.5" y1="2335.15" y2="2335.15"/>
<text class="at" text-anchor="end" transform="translate(170.2 2370.65) scale(1 1.03)">2</text>
<line class="tk" x1="183" x2="197.5" y1="2085.55" y2="2085.55"/>
<text class="at" text-anchor="end" transform="translate(170.2 2121.05) scale(1 1.03)">4</text>
<line class="tk" x1="183" x2="197.5" y1="1835.95" y2="1835.95"/>
<text class="at" text-anchor="end" transform="translate(170.2 1871.45) scale(1 1.03)">6</text>
<line class="tk" x1="447.5" x2="447.5" y1="2624.3" y2="2638.8"/>
<text class="at" text-anchor="middle" transform="translate(446.9 2686.9) scale(1 1.03)">-1</text>
<line class="tk" x1="760.5" x2="760.5" y1="2624.3" y2="2638.8"/>
<text class="at" text-anchor="middle" transform="translate(759.9 2686.9) scale(1 1.03)">0</text>
<line class="tk" x1="1073.5" x2="1073.5" y1="2624.3" y2="2638.8"/>
<text class="at" text-anchor="middle" transform="translate(1072.9 2686.9) scale(1 1.03)">1</text>
<line class="tk" x1="1386.5" x2="1386.5" y1="2624.3" y2="2638.8"/>
<text class="at" text-anchor="middle" transform="translate(1385.9 2686.9) scale(1 1.03)">2</text>
<text class="al" y="2747.6"><tspan x="715.9">Log</tspan><tspan class="sb" x="796.3" dy="8.6">2</tspan><tspan x="813.7" dy="-8.6"> fold change</tspan></text>
<text class="al" transform="translate(80.25 2295.4) rotate(-90)"><tspan x="0" y="4.7">−</tspan><tspan x="32.8" y="0">Log</tspan><tspan class="sb" x="113.6" y="9.3">10</tspan><tspan x="162" y="0" font-style="italic">P</tspan></text>
<text class="ti" x="199" y="1505.9">8.1 vs 8.0 DE UPR Genes</text>
<text class="su" x="199" y="1575.3">LogFC cutoff: 0.5, p cutoff: 0.05</text>
<text class="su" text-anchor="end" letter-spacing=".15" x="1581.25" y="2826">Total = 106 variables</text>
<circle class="g" cx="745.75" cy="1667.8" r="12.33"/>
<circle class="g" cx="898.95" cy="1667.8" r="12.33"/>
<text class="su" x="795.55" y="1681.1">NS</text>
<text class="su" y="1678.7"><tspan x="948.35">Log</tspan><tspan class="sb2" x="1010.85" dy="6.8">2</tspan><tspan x="1035.75" dy="-6.8">FC</tspan></text>
<line class="mn" x1="1771.5" x2="3154.25" y1="2508.55" y2="2508.55"/>
<line class="mn" x1="1771.5" x2="3154.25" y1="2356.25" y2="2356.25"/>
<line class="mn" x1="1771.5" x2="3154.25" y1="2203.95" y2="2203.95"/>
<line class="mn" x1="1771.5" x2="3154.25" y1="2051.65" y2="2051.65"/>
<line class="mn" x1="1771.5" x2="3154.25" y1="1899.35" y2="1899.35"/>
<line class="mn" x1="1840.1" x2="1840.1" y1="1785.1" y2="2622.8"/>
<line class="mn" x1="2203.3" x2="2203.3" y1="1785.1" y2="2622.8"/>
<line class="mn" x1="2566.5" x2="2566.5" y1="1785.1" y2="2622.8"/>
<line class="mn" x1="2929.7" x2="2929.7" y1="1785.1" y2="2622.8"/>
<line class="mj" x1="1771.5" x2="3154.25" y1="2584.7" y2="2584.7"/>
<line class="mj" x1="1771.5" x2="3154.25" y1="2432.4" y2="2432.4"/>
<line class="mj" x1="1771.5" x2="3154.25" y1="2280.1" y2="2280.1"/>
<line class="mj" x1="1771.5" x2="3154.25" y1="2127.8" y2="2127.8"/>
<line class="mj" x1="1771.5" x2="3154.25" y1="1975.5" y2="1975.5"/>
<line class="mj" x1="1771.5" x2="3154.25" y1="1823.2" y2="1823.2"/>
<line class="mj" x1="2021.7" x2="2021.7" y1="1785.1" y2="2622.8"/>
<line class="mj" x1="2384.9" x2="2384.9" y1="1785.1" y2="2622.8"/>
<line class="mj" x1="2748.1" x2="2748.1" y1="1785.1" y2="2622.8"/>
<line class="mj" x1="3111.3" x2="3111.3" y1="1785.1" y2="2622.8"/>
<circle class="g" cx="2197.5" cy="2584.7" r="6.64"/>
<circle class="g" cx="2240.1" cy="2584.7" r="6.64"/>
<circle class="g" cx="2250.3" cy="2584.7" r="6.64"/>
<circle class="g" cx="2254.7" cy="2584.7" r="6.64"/>
<circle class="g" cx="2264.1" cy="2584.7" r="6.64"/>
<circle class="g" cx="2273.8" cy="2584.7" r="6.64"/>
<circle class="g" cx="2274.8" cy="2584.7" r="6.64"/>
<circle class="g" cx="2285.9" cy="2584.7" r="6.64"/>
<circle class="g" cx="2288.3" cy="2584.7" r="6.64"/>
<circle class="g" cx="2296.4" cy="2584.7" r="6.64"/>
<circle class="g" cx="2297.5" cy="2584.7" r="6.64"/>
<circle class="g" cx="2309.3" cy="2584.7" r="6.64"/>
<circle class="g" cx="2312" cy="2584.7" r="6.64"/>
<circle class="g" cx="2315" cy="2584.7" r="6.64"/>
<circle class="g" cx="2318" cy="2584.7" r="6.64"/>
<circle class="g" cx="2321" cy="2584.7" r="6.64"/>
<circle class="g" cx="2323" cy="2584.7" r="6.64"/>
<circle class="g" cx="2325.5" cy="2584.7" r="6.64"/>
<circle class="g" cx="2335.2" cy="2584.7" r="6.64"/>
<circle class="g" cx="2344.9" cy="2584.7" r="6.64"/>
<circle class="g" cx="2347" cy="2584.7" r="6.64"/>
<circle class="g" cx="2349" cy="2584.7" r="6.64"/>
<circle class="g" cx="2352" cy="2584.7" r="6.64"/>
<circle class="g" cx="2355" cy="2584.7" r="6.64"/>
<circle class="g" cx="2357.9" cy="2584.7" r="6.64"/>
<circle class="g" cx="2369.5" cy="2584.7" r="6.64"/>
<circle class="g" cx="2370.8" cy="2584.7" r="6.64"/>
<circle class="g" cx="2372" cy="2584.7" r="6.64"/>
<circle class="g" cx="2373" cy="2584.7" r="6.64"/>
<circle class="g" cx="2378" cy="2584.7" r="6.64"/>
<circle class="g" cx="2383" cy="2584.7" r="6.64"/>
<circle class="g" cx="2388" cy="2584.7" r="6.64"/>
<circle class="g" cx="2393" cy="2584.7" r="6.64"/>
<circle class="g" cx="2398" cy="2584.7" r="6.64"/>
<circle class="g" cx="2403" cy="2584.7" r="6.64"/>
<circle class="g" cx="2408" cy="2584.7" r="6.64"/>
<circle class="g" cx="2413" cy="2584.7" r="6.64"/>
<circle class="g" cx="2418" cy="2584.7" r="6.64"/>
<circle class="g" cx="2423" cy="2584.7" r="6.64"/>
<circle class="g" cx="2427" cy="2584.7" r="6.64"/>
<circle class="g" cx="2429.5" cy="2584.7" r="6.64"/>
<circle class="g" cx="2430.6" cy="2584.7" r="6.64"/>
<circle class="g" cx="2431.7" cy="2584.7" r="6.64"/>
<circle class="g" cx="2434" cy="2584.7" r="6.64"/>
<circle class="g" cx="2439" cy="2584.7" r="6.64"/>
<circle class="g" cx="2444" cy="2584.7" r="6.64"/>
<circle class="g" cx="2449" cy="2584.7" r="6.64"/>
<circle class="g" cx="2454" cy="2584.7" r="6.64"/>
<circle class="g" cx="2458" cy="2584.7" r="6.64"/>
<circle class="g" cx="2460" cy="2584.7" r="6.64"/>
<circle class="g" cx="2461.3" cy="2584.7" r="6.64"/>
<circle class="g" cx="2462.5" cy="2584.7" r="6.64"/>
<circle class="g" cx="2464" cy="2584.7" r="6.64"/>
<circle class="g" cx="2468" cy="2584.7" r="6.64"/>
<circle class="g" cx="2473" cy="2584.7" r="6.64"/>
<circle class="g" cx="2478" cy="2584.7" r="6.64"/>
<circle class="g" cx="2483" cy="2584.7" r="6.64"/>
<circle class="g" cx="2487.2" cy="2584.7" r="6.64"/>
<circle class="g" cx="2500.1" cy="2584.7" r="6.64"/>
<circle class="g" cx="2506.6" cy="2584.7" r="6.64"/>
<circle class="g" cx="2514.5" cy="2584.7" r="6.64"/>
<circle class="g" cx="2516.3" cy="2584.7" r="6.64"/>
<circle class="g" cx="2517.5" cy="2584.7" r="6.64"/>
<circle class="g" cx="2518.5" cy="2584.7" r="6.64"/>
<circle class="g" cx="2533.3" cy="2584.7" r="6.64"/>
<circle class="g" cx="2534.5" cy="2584.7" r="6.64"/>
<circle class="g" cx="2538.4" cy="2584.7" r="6.64"/>
<circle class="g" cx="2551.4" cy="2584.7" r="6.64"/>
<circle class="g" cx="2570" cy="2584.7" r="6.64"/>
<circle class="g" cx="2571.3" cy="2584.7" r="6.64"/>
<circle class="g" cx="2581.7" cy="2584.7" r="6.64"/>
<circle class="g" cx="2593" cy="2584.7" r="6.64"/>
<circle class="g" cx="2620.8" cy="2584.7" r="6.64"/>
<circle class="g" cx="2627.3" cy="2584.7" r="6.64"/>
<circle class="g" cx="2637" cy="2584.7" r="6.64"/>
<circle class="g" cx="2639" cy="2584.7" r="6.64"/>
<circle class="g" cx="2640.2" cy="2584.7" r="6.64"/>
<circle class="g" cx="2666.6" cy="2584.7" r="6.64"/>
<circle class="g" cx="2678.2" cy="2584.7" r="6.64"/>
<circle class="g" cx="2679.9" cy="2584.7" r="6.64"/>
<circle class="g" cx="2699.6" cy="2584.7" r="6.64"/>
<circle class="g" cx="2727.9" cy="2584.7" r="6.64"/>
<circle class="g" cx="2380" cy="2584.7" r="6.64"/>
<circle class="g" cx="2385" cy="2584.7" r="6.64"/>
<circle class="g" cx="2390" cy="2584.7" r="6.64"/>
<circle class="g" cx="2395" cy="2584.7" r="6.64"/>
<circle class="g" cx="2400" cy="2584.7" r="6.64"/>
<circle class="g" cx="2405" cy="2584.7" r="6.64"/>
<circle class="g" cx="2410" cy="2584.7" r="6.64"/>
<circle class="g" cx="2415" cy="2584.7" r="6.64"/>
<circle class="g" cx="2420" cy="2584.7" r="6.64"/>
<circle class="g" cx="2425" cy="2584.7" r="6.64"/>
<circle class="g" cx="2436" cy="2584.7" r="6.64"/>
<circle class="g" cx="2441" cy="2584.7" r="6.64"/>
<circle class="g" cx="2446" cy="2584.7" r="6.64"/>
<circle class="g" cx="2451" cy="2584.7" r="6.64"/>
<circle class="g" cx="2456" cy="2584.7" r="6.64"/>
<circle class="g" cx="2466" cy="2584.7" r="6.64"/>
<circle class="g" cx="2471" cy="2584.7" r="6.64"/>
<circle class="g" cx="2476" cy="2584.7" r="6.64"/>
<circle class="g" cx="2481" cy="2584.7" r="6.64"/>
<circle class="g" cx="2313" cy="2584.7" r="6.64"/>
<circle class="g" cx="2320" cy="2584.7" r="6.64"/>
<circle class="g" cx="2350" cy="2584.7" r="6.64"/>
<circle class="g" cx="2354" cy="2584.7" r="6.64"/>
<circle class="g" cx="2300" cy="2584.7" r="6.64"/>
<line class="ds" x1="2203.3" x2="2203.3" y1="2622.8" y2="1785.1"/>
<line class="ds" x1="2566.5" x2="2566.5" y1="2622.8" y2="1785.1"/>
<line class="ds" x1="1771.5" x2="3154.25" y1="2386.55" y2="2386.55"/>
<line class="ax" x1="1771.5" x2="1771.5" y1="1785.1" y2="2622.8"/>
<line class="ax" x1="1771.5" x2="3154.25" y1="2622.8" y2="2622.8"/>
<line class="tk" x1="1755.5" x2="1770" y1="2584.7" y2="2584.7"/>
<text class="at" text-anchor="end" transform="translate(1742.7 2620.2) scale(1 1.03)">0</text>
<line class="tk" x1="1755.5" x2="1770" y1="2432.4" y2="2432.4"/>
<text class="at" text-anchor="end" transform="translate(1742.7 2467.9) scale(1 1.03)">1</text>
<line class="tk" x1="1755.5" x2="1770" y1="2280.1" y2="2280.1"/>
<text class="at" text-anchor="end" transform="translate(1742.7 2315.6) scale(1 1.03)">2</text>
<line class="tk" x1="1755.5" x2="1770" y1="2127.8" y2="2127.8"/>
<text class="at" text-anchor="end" transform="translate(1742.7 2163.3) scale(1 1.03)">3</text>
<line class="tk" x1="1755.5" x2="1770" y1="1975.5" y2="1975.5"/>
<text class="at" text-anchor="end" transform="translate(1742.7 2011) scale(1 1.03)">4</text>
<line class="tk" x1="1755.5" x2="1770" y1="1823.2" y2="1823.2"/>
<text class="at" text-anchor="end" transform="translate(1742.7 1858.7) scale(1 1.03)">5</text>
<line class="tk" x1="2021.7" x2="2021.7" y1="2624.3" y2="2638.8"/>
<text class="at" text-anchor="middle" transform="translate(2021.1 2686.9) scale(1 1.03)">-1</text>
<line class="tk" x1="2384.9" x2="2384.9" y1="2624.3" y2="2638.8"/>
<text class="at" text-anchor="middle" transform="translate(2384.3 2686.9) scale(1 1.03)">0</text>
<line class="tk" x1="2748.1" x2="2748.1" y1="2624.3" y2="2638.8"/>
<text class="at" text-anchor="middle" transform="translate(2747.5 2686.9) scale(1 1.03)">1</text>
<line class="tk" x1="3111.3" x2="3111.3" y1="2624.3" y2="2638.8"/>
<text class="at" text-anchor="middle" transform="translate(3110.7 2686.9) scale(1 1.03)">2</text>
<text class="al" y="2747.6"><tspan x="2288.4">Log</tspan><tspan class="sb" x="2368.8" dy="8.6">2</tspan><tspan x="2386.2" dy="-8.6"> fold change</tspan></text>
<text class="al" transform="translate(1680.25 2295.4) rotate(-90)"><tspan x="0" y="4.7">−</tspan><tspan x="32.8" y="0">Log</tspan><tspan class="sb" x="113.6" y="9.3">10</tspan><tspan x="162" y="0" font-style="italic">P</tspan></text>
<text class="ti" x="1771.5" y="1505.9">8.2 vs 8.0 DE UPR Genes</text>
<text class="su" x="1771.5" y="1575.3">LogFC cutoff: 0.5, p cutoff: 0.05</text>
<text class="su" text-anchor="end" letter-spacing=".15" x="3153.75" y="2826">Total = 106 variables</text>
<circle class="g" cx="2318.25" cy="1667.8" r="12.33"/>
<circle class="g" cx="2471.45" cy="1667.8" r="12.33"/>
<text class="su" x="2368.05" y="1681.1">NS</text>
<text class="su" y="1678.7"><tspan x="2520.85">Log</tspan><tspan class="sb2" x="2583.35" dy="6.8">2</tspan><tspan x="2608.25" dy="-6.8">FC</tspan></text>
<line class="mn" x1="3370.7" x2="4753.45" y1="2508.55" y2="2508.55"/>
<line class="mn" x1="3370.7" x2="4753.45" y1="2356.25" y2="2356.25"/>
<line class="mn" x1="3370.7" x2="4753.45" y1="2203.95" y2="2203.95"/>
<line class="mn" x1="3370.7" x2="4753.45" y1="2051.65" y2="2051.65"/>
<line class="mn" x1="3370.7" x2="4753.45" y1="1899.35" y2="1899.35"/>
<line class="mn" x1="3492.3" x2="3492.3" y1="1785.1" y2="2622.8"/>
<line class="mn" x1="3871.1" x2="3871.1" y1="1785.1" y2="2622.8"/>
<line class="mn" x1="4249.9" x2="4249.9" y1="1785.1" y2="2622.8"/>
<line class="mn" x1="4628.7" x2="4628.7" y1="1785.1" y2="2622.8"/>
<line class="mj" x1="3370.7" x2="4753.45" y1="2584.7" y2="2584.7"/>
<line class="mj" x1="3370.7" x2="4753.45" y1="2432.4" y2="2432.4"/>
<line class="mj" x1="3370.7" x2="4753.45" y1="2280.1" y2="2280.1"/>
<line class="mj" x1="3370.7" x2="4753.45" y1="2127.8" y2="2127.8"/>
<line class="mj" x1="3370.7" x2="4753.45" y1="1975.5" y2="1975.5"/>
<line class="mj" x1="3370.7" x2="4753.45" y1="1823.2" y2="1823.2"/>
<line class="mj" x1="3681.7" x2="3681.7" y1="1785.1" y2="2622.8"/>
<line class="mj" x1="4060.5" x2="4060.5" y1="1785.1" y2="2622.8"/>
<line class="mj" x1="4439.3" x2="4439.3" y1="1785.1" y2="2622.8"/>
<circle class="g" cx="3812.3" cy="2584.7" r="6.64"/>
<circle class="g" cx="3880.6" cy="2584.7" r="6.64"/>
<circle class="g" cx="3946.5" cy="2584.7" r="6.64"/>
<circle class="g" cx="3953.8" cy="2584.7" r="6.64"/>
<circle class="g" cx="3963.5" cy="2584.7" r="6.64"/>
<circle class="g" cx="3968.4" cy="2584.7" r="6.64"/>
<circle class="g" cx="3978.1" cy="2584.7" r="6.64"/>
<circle class="g" cx="3988.6" cy="2584.7" r="6.64"/>
<circle class="g" cx="3993.4" cy="2584.7" r="6.64"/>
<circle class="g" cx="3996" cy="2584.7" r="6.64"/>
<circle class="g" cx="3999" cy="2584.7" r="6.64"/>
<circle class="g" cx="4002" cy="2584.7" r="6.64"/>
<circle class="g" cx="4004" cy="2584.7" r="6.64"/>
<circle class="g" cx="4006.4" cy="2584.7" r="6.64"/>
<circle class="g" cx="4009.6" cy="2584.7" r="6.64"/>
<circle class="g" cx="4010.97" cy="2584.7" r="6.64"/>
<circle class="g" cx="4012.34" cy="2584.7" r="6.64"/>
<circle class="g" cx="4013.71" cy="2584.7" r="6.64"/>
<circle class="g" cx="4015.08" cy="2584.7" r="6.64"/>
<circle class="g" cx="4016.45" cy="2584.7" r="6.64"/>
<circle class="g" cx="4017.82" cy="2584.7" r="6.64"/>
<circle class="g" cx="4019.19" cy="2584.7" r="6.64"/>
<circle class="g" cx="4020.56" cy="2584.7" r="6.64"/>
<circle class="g" cx="4021.93" cy="2584.7" r="6.64"/>
<circle class="g" cx="4023.3" cy="2584.7" r="6.64"/>
<circle class="g" cx="4024.67" cy="2584.7" r="6.64"/>
<circle class="g" cx="4026.04" cy="2584.7" r="6.64"/>
<circle class="g" cx="4027.41" cy="2584.7" r="6.64"/>
<circle class="g" cx="4028.78" cy="2584.7" r="6.64"/>
<circle class="g" cx="4030.15" cy="2584.7" r="6.64"/>
<circle class="g" cx="4031.52" cy="2584.7" r="6.64"/>
<circle class="g" cx="4032.89" cy="2584.7" r="6.64"/>
<circle class="g" cx="4034.26" cy="2584.7" r="6.64"/>
<circle class="g" cx="4035.63" cy="2584.7" r="6.64"/>
<circle class="g" cx="4037" cy="2584.7" r="6.64"/>
<circle class="g" cx="4038.37" cy="2584.7" r="6.64"/>
<circle class="g" cx="4039.74" cy="2584.7" r="6.64"/>
<circle class="g" cx="4041.11" cy="2584.7" r="6.64"/>
<circle class="g" cx="4042.48" cy="2584.7" r="6.64"/>
<circle class="g" cx="4043.85" cy="2584.7" r="6.64"/>
<circle class="g" cx="4045.22" cy="2584.7" r="6.64"/>
<circle class="g" cx="4046.59" cy="2584.7" r="6.64"/>
<circle class="g" cx="4047.96" cy="2584.7" r="6.64"/>
<circle class="g" cx="4049.33" cy="2584.7" r="6.64"/>
<circle class="g" cx="4050.7" cy="2584.7" r="6.64"/>
<circle class="g" cx="4052.07" cy="2584.7" r="6.64"/>
<circle class="g" cx="4053.44" cy="2584.7" r="6.64"/>
<circle class="g" cx="4054.81" cy="2584.7" r="6.64"/>
<circle class="g" cx="4056.18" cy="2584.7" r="6.64"/>
<circle class="g" cx="4057.55" cy="2584.7" r="6.64"/>
<circle class="g" cx="4058.92" cy="2584.7" r="6.64"/>
<circle class="g" cx="4060.29" cy="2584.7" r="6.64"/>
<circle class="g" cx="4061.66" cy="2584.7" r="6.64"/>
<circle class="g" cx="4063.03" cy="2584.7" r="6.64"/>
<circle class="g" cx="4064.4" cy="2584.7" r="6.64"/>
<circle class="g" cx="4065.77" cy="2584.7" r="6.64"/>
<circle class="g" cx="4067.14" cy="2584.7" r="6.64"/>
<circle class="g" cx="4068.51" cy="2584.7" r="6.64"/>
<circle class="g" cx="4069.88" cy="2584.7" r="6.64"/>
<circle class="g" cx="4071.25" cy="2584.7" r="6.64"/>
<circle class="g" cx="4072.62" cy="2584.7" r="6.64"/>
<circle class="g" cx="4073.99" cy="2584.7" r="6.64"/>
<circle class="g" cx="4075.36" cy="2584.7" r="6.64"/>
<circle class="g" cx="4076.73" cy="2584.7" r="6.64"/>
<circle class="g" cx="4078.1" cy="2584.7" r="6.64"/>
<circle class="g" cx="4079.47" cy="2584.7" r="6.64"/>
<circle class="g" cx="4080.84" cy="2584.7" r="6.64"/>
<circle class="g" cx="4082.21" cy="2584.7" r="6.64"/>
<circle class="g" cx="4083.58" cy="2584.7" r="6.64"/>
<circle class="g" cx="4084.95" cy="2584.7" r="6.64"/>
<circle class="g" cx="4086.32" cy="2584.7" r="6.64"/>
<circle class="g" cx="4087.69" cy="2584.7" r="6.64"/>
<circle class="g" cx="4089.06" cy="2584.7" r="6.64"/>
<circle class="g" cx="4090.43" cy="2584.7" r="6.64"/>
<circle class="g" cx="4091.8" cy="2584.7" r="6.64"/>
<circle class="g" cx="4093.17" cy="2584.7" r="6.64"/>
<circle class="g" cx="4094.54" cy="2584.7" r="6.64"/>
<circle class="g" cx="4095.91" cy="2584.7" r="6.64"/>
<circle class="g" cx="4097.28" cy="2584.7" r="6.64"/>
<circle class="g" cx="4098.65" cy="2584.7" r="6.64"/>
<circle class="g" cx="4100.02" cy="2584.7" r="6.64"/>
<circle class="g" cx="4101.39" cy="2584.7" r="6.64"/>
<circle class="g" cx="4102.76" cy="2584.7" r="6.64"/>
<circle class="g" cx="4104.13" cy="2584.7" r="6.64"/>
<circle class="g" cx="4105.5" cy="2584.7" r="6.64"/>
<circle class="g" cx="4106.87" cy="2584.7" r="6.64"/>
<circle class="g" cx="4112" cy="2584.7" r="6.64"/>
<circle class="g" cx="4116.3" cy="2584.7" r="6.64"/>
<circle class="g" cx="4117.5" cy="2584.7" r="6.64"/>
<circle class="g" cx="4119.5" cy="2584.7" r="6.64"/>
<circle class="g" cx="4133.3" cy="2584.7" r="6.64"/>
<circle class="g" cx="4154.6" cy="2584.7" r="6.64"/>
<circle class="g" cx="4162.5" cy="2584.7" r="6.64"/>
<circle class="g" cx="4163.2" cy="2584.7" r="6.64"/>
<circle class="g" cx="4163.6" cy="2584.7" r="6.64"/>
<circle class="g" cx="4164.3" cy="2584.7" r="6.64"/>
<circle class="g" cx="4180.4" cy="2584.7" r="6.64"/>
<circle class="g" cx="4196.6" cy="2584.7" r="6.64"/>
<circle class="g" cx="4204.3" cy="2584.7" r="6.64"/>
<circle class="g" cx="4232.5" cy="2584.7" r="6.64"/>
<circle class="g" cx="4247.5" cy="2584.7" r="6.64"/>
<circle class="g" cx="4257.2" cy="2584.7" r="6.64"/>
<circle class="g" cx="4295.2" cy="2584.7" r="6.64"/>
<circle class="g" cx="4305.2" cy="2584.7" r="6.64"/>
<circle class="g" cx="4311.9" cy="2584.7" r="6.64"/>
<line class="ds" x1="3871.1" x2="3871.1" y1="2622.8" y2="1785.1"/>
<line class="ds" x1="4249.9" x2="4249.9" y1="2622.8" y2="1785.1"/>
<line class="ds" x1="3370.7" x2="4753.45" y1="2386.55" y2="2386.55"/>
<line class="ax" x1="3370.7" x2="3370.7" y1="1785.1" y2="2622.8"/>
<line class="ax" x1="3370.7" x2="4753.45" y1="2622.8" y2="2622.8"/>
<line class="tk" x1="3354.7" x2="3369.2" y1="2584.7" y2="2584.7"/>
<text class="at" text-anchor="end" transform="translate(3341.9 2620.2) scale(1 1.03)">0</text>
<line class="tk" x1="3354.7" x2="3369.2" y1="2432.4" y2="2432.4"/>
<text class="at" text-anchor="end" transform="translate(3341.9 2467.9) scale(1 1.03)">1</text>
<line class="tk" x1="3354.7" x2="3369.2" y1="2280.1" y2="2280.1"/>
<text class="at" text-anchor="end" transform="translate(3341.9 2315.6) scale(1 1.03)">2</text>
<line class="tk" x1="3354.7" x2="3369.2" y1="2127.8" y2="2127.8"/>
<text class="at" text-anchor="end" transform="translate(3341.9 2163.3) scale(1 1.03)">3</text>
<line class="tk" x1="3354.7" x2="3369.2" y1="1975.5" y2="1975.5"/>
<text class="at" text-anchor="end" transform="translate(3341.9 2011) scale(1 1.03)">4</text>
<line class="tk" x1="3354.7" x2="3369.2" y1="1823.2" y2="1823.2"/>
<text class="at" text-anchor="end" transform="translate(3341.9 1858.7) scale(1 1.03)">5</text>
<line class="tk" x1="3681.7" x2="3681.7" y1="2624.3" y2="2638.8"/>
<text class="at" text-anchor="middle" transform="translate(3681.1 2686.9) scale(1 1.03)">-1</text>
<line class="tk" x1="4060.5" x2="4060.5" y1="2624.3" y2="2638.8"/>
<text class="at" text-anchor="middle" transform="translate(4059.9 2686.9) scale(1 1.03)">0</text>
<line class="tk" x1="4439.3" x2="4439.3" y1="2624.3" y2="2638.8"/>
<text class="at" text-anchor="middle" transform="translate(4438.7 2686.9) scale(1 1.03)">1</text>
<text class="al" y="2747.6"><tspan x="3887.6">Log</tspan><tspan class="sb" x="3968" dy="8.6">2</tspan><tspan x="3985.4" dy="-8.6"> fold change</tspan></text>
<text class="al" transform="translate(3252.2 2295.4) rotate(-90)"><tspan x="0" y="4.7">−</tspan><tspan x="32.8" y="0">Log</tspan><tspan class="sb" x="113.6" y="9.3">10</tspan><tspan x="162" y="0" font-style="italic">P</tspan></text>
<text class="ti" x="3370.7" y="1505.9">8.1 vs 8.2 DE UPR Genes</text>
<text class="su" x="3370.7" y="1575.3">LogFC cutoff: 0.5, p cutoff: 0.05</text>
<text class="su" text-anchor="end" letter-spacing=".15" x="4752.95" y="2826">Total = 106 variables</text>
<circle class="g" cx="3917.45" cy="1667.8" r="12.33"/>
<circle class="g" cx="4070.65" cy="1667.8" r="12.33"/>
<text class="su" x="3967.25" y="1681.1">NS</text>
<text class="su" y="1678.7"><tspan x="4120.05">Log</tspan><tspan class="sb2" x="4182.55" dy="6.8">2</tspan><tspan x="4207.45" dy="-6.8">FC</tspan></text>
</svg>
</body></html>
